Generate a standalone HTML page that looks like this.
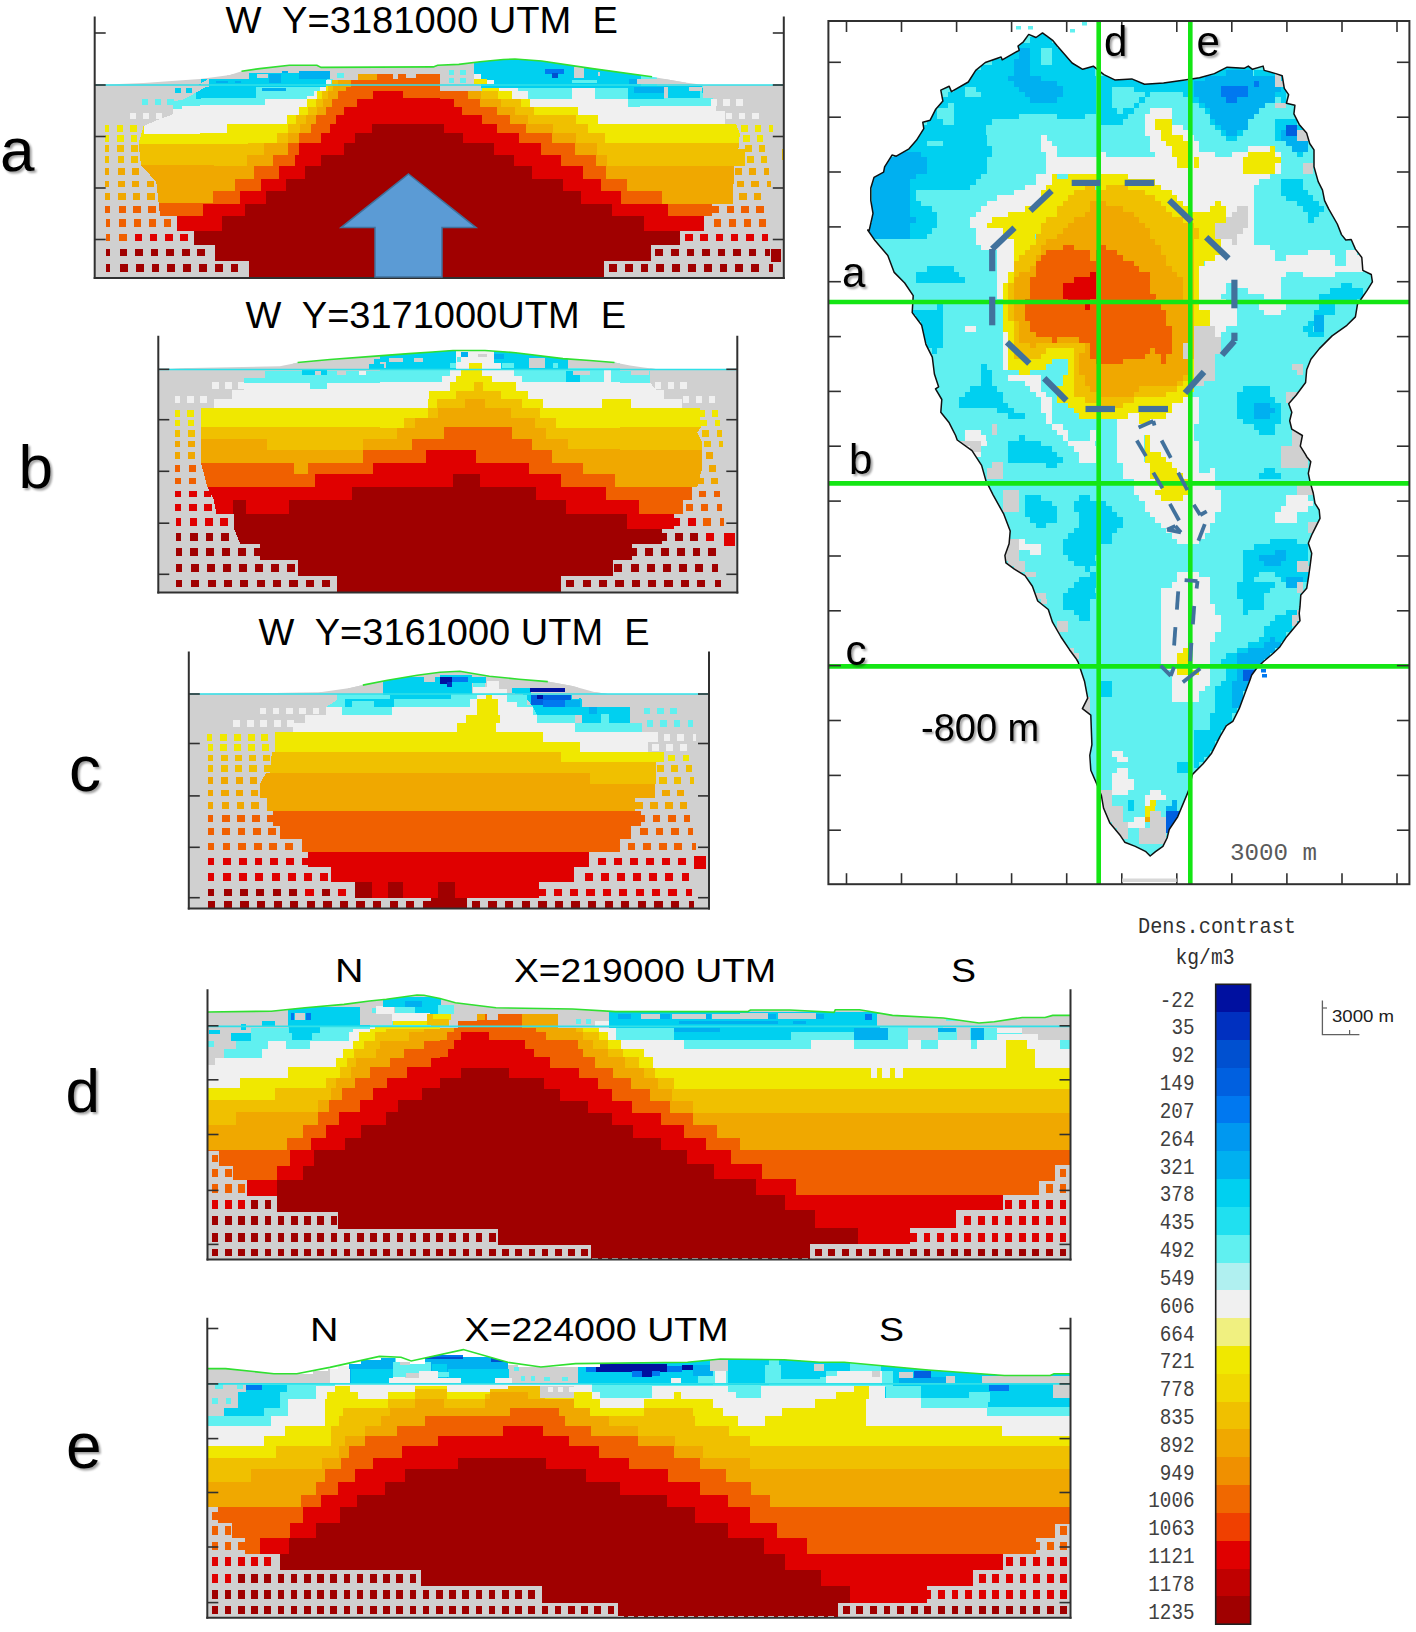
<!DOCTYPE html>
<html><head><meta charset="utf-8"><title>Density contrast sections</title>
<style>
html,body{margin:0;padding:0;background:#fff;}
body{width:1416px;height:1632px;overflow:hidden;}
svg{display:block;}
text{font-family:"Liberation Sans",sans-serif;}
.mono{font-family:"Liberation Mono",monospace;}
</style></head><body>
<svg width="1416" height="1632" viewBox="0 0 1416 1632">
<rect width="1416" height="1632" fill="#ffffff"/>
<clipPath id="clip_a"><path d="M94.7,85 143.5,83 200,79 230,75 241.5,71.2 259.7,68.6 289.3,65.3 316.9,65.3 321.1,67.4 433.4,66.9 437.6,65.3 458.8,64.4 480,61.7 503.3,59.5 515,59 541.7,61 592.5,68.6 652,76.8 685,82.6 704,85 783.8,85 783.8,278 94.7,278Z"/></clipPath>
<g clip-path="url(#clip_a)" shape-rendering="crispEdges">
<rect x="94.7" y="16.5" width="689.1" height="261.5" fill="#d0d0d0"/>
<path d="M94.7,278 94.7,96.6 184.2,96.6 184.2,92.8 195.7,92.8 195.7,86.4 200,86.4 200,86.9 208.5,86.9 208.5,79.2 249.4,79.2 249.4,72.8 332.8,72.8 332.8,84.1 400,84.1 440,84.1 473.9,84.1 473.9,58.7 640,58.7 640,58.7 656.5,58.7 656.5,85.5 703.1,85.5 703.1,91.2 783.6,91.2 783.6,278Z" fill="#60f0f0"/>
<path d="M208.4,78.8 195.7,86.4 195.7,99.2 200.8,99.2 200.8,78.8Z" fill="#00d0f0"/>
<path d="M208.5,79.2 249.4,79.2 249.4,72.8 332.8,72.8 332.8,78.5 327.1,78.5 327.1,86.9 255.8,86.9 255.8,98.2 200,98.2 200,86.9 208.5,86.9Z" fill="#00d0f0"/>
<rect x="215.5" y="80.6" width="12.7" height="2.1" fill="#00b0f0"/>
<rect x="235.3" y="80.6" width="5.6" height="2.1" fill="#00b0f0"/>
<rect x="262.1" y="87.7" width="24" height="3.5" fill="#00b0f0"/>
<rect x="269.2" y="74.2" width="11.3" height="9.2" fill="#00b0f0"/>
<rect x="298.9" y="70.7" width="33.9" height="7.8" fill="#00b0f0"/>
<rect x="281.9" y="70.7" width="5.6" height="2.1" fill="#00b0f0"/>
<rect x="226.8" y="74.2" width="19.8" height="3.5" fill="#d0d0d0"/>
<rect x="256.5" y="74.2" width="11.3" height="3.5" fill="#d0d0d0"/>
<rect x="329.9" y="70" width="29.7" height="8.5" fill="#d0d0d0"/>
<rect x="337" y="72.8" width="7.1" height="4.9" fill="#60f0f0"/>
<rect x="473.9" y="58.7" width="166.7" height="29.7" fill="#00d0f0"/>
<rect x="627.9" y="84.1" width="12.7" height="14.8" fill="#00d0f0"/>
<rect x="572.1" y="79.9" width="24.7" height="3.5" fill="#60f0f0"/>
<rect x="574.2" y="67.2" width="9.9" height="10.6" fill="#d0d0d0"/>
<rect x="598.2" y="72.1" width="11.3" height="4.2" fill="#d0d0d0"/>
<rect x="473.9" y="74.2" width="7.1" height="4.5" fill="#f0f0f0"/>
<rect x="487.3" y="79.9" width="7.1" height="4.2" fill="#f0f0f0"/>
<rect x="545.2" y="68.6" width="19.1" height="5.6" fill="#0078f0"/>
<rect x="551.6" y="72.8" width="6.4" height="5.4" fill="#0050d0"/>
<rect x="473.9" y="79.2" width="12.7" height="4.9" fill="#f0e800"/>
<rect x="600" y="64.4" width="29.7" height="21.2" fill="#00d0f0"/>
<rect x="629.7" y="85.8" width="33.9" height="13.1" fill="#00d0f0"/>
<rect x="667.8" y="88.4" width="32.5" height="9.9" fill="#00d0f0"/>
<rect x="663.6" y="85.8" width="38.1" height="3.2" fill="#00d0f0"/>
<rect x="633.9" y="86.9" width="29.7" height="5.6" fill="#00b0f0"/>
<rect x="629" y="78.5" width="8.5" height="5.6" fill="#00b0f0"/>
<rect x="663.6" y="86.9" width="4.2" height="11.3" fill="#d0d0d0"/>
<rect x="689" y="86.9" width="12.7" height="4.2" fill="#d0d0d0"/>
<rect x="637.4" y="78.5" width="48.7" height="5.6" fill="#d0d0d0"/>
<rect x="701.7" y="88.4" width="3.5" height="4.9" fill="#00d0f0"/>
<path d="M94.7,278 94.7,109.3 181.7,109.3 181.7,105.5 200,105.5 265,105.3 265,99 306.6,99 306.6,96.1 314.4,96.1 314.4,91.2 320.1,91.2 320.1,86.9 326.4,86.9 326.4,79.9 331.4,79.9 331.4,84.1 400,84.1 440,91.2 499.3,91.2 499.3,88.4 518.4,88.4 518.4,91.2 528.3,91.2 528.3,99 572.1,99 572.1,88.4 595.4,88.4 595.4,99 627.9,99 627.9,106.7 640,106.7 640,106 713,106 713,98.2 783.6,98.2 783.6,278Z" fill="#f0f0f0"/>
<path d="M94.7,278 94.7,122 143.6,122 143.6,133.5 200,133.5 226.8,132.9 226.8,124.4 286.9,124.4 286.9,115.2 298.9,115.2 298.9,106.7 306.6,106.7 306.6,99 317.2,99 317.2,91.2 326.4,91.2 326.4,84.1 400,84.1 440,91.2 482.4,91.2 482.4,88.4 499.3,88.4 499.3,91.2 512,91.2 512,99 530.4,99 530.4,106.7 578.4,106.7 578.4,115.2 597.5,115.2 597.5,124.4 640,124.4 640,124.4 783.6,124.4 783.6,278Z" fill="#f0e800"/>
<path d="M94.7,278 94.7,143.7 200,143.7 277,143.4 277,132.9 288.3,132.9 288.3,124.4 296,124.4 296,115.2 308.1,115.2 308.1,106.7 315.8,106.7 315.8,99 321.5,99 321.5,91.2 327.8,91.2 327.8,86.2 332.1,86.2 332.1,79.9 346.9,79.9 346.9,84.1 400,84.1 440,91.2 497.9,91.2 497.9,99 521.2,99 521.2,106.7 533.9,106.7 533.9,115.2 575.6,115.2 575.6,124.4 588.3,124.4 588.3,132.9 605.3,132.9 605.3,143.4 640,143.4 640,143.4 783.6,143.4 783.6,278Z" fill="#f0c000"/>
<path d="M94.7,278 94.7,165.3 200,165.3 247.3,166 247.3,154.7 263.6,154.7 263.6,143.4 287.6,143.4 287.6,132.9 299.6,132.9 299.6,124.4 305.9,124.4 305.9,115.2 317.2,115.2 317.2,106.7 322.9,106.7 322.9,99 327.8,99 327.8,91.2 332.8,91.2 332.8,86.2 337.7,86.2 337.7,79.9 358.2,79.9 358.2,74.2 376.6,74.2 376.6,84.1 400,84.1 440,91.2 481,91.2 481,99 500.7,99 500.7,106.7 514.9,106.7 514.9,115.2 527.6,115.2 527.6,124.4 553,124.4 553,132.9 575.6,132.9 575.6,143.4 596.8,143.4 596.8,154.7 606.7,154.7 606.7,166 640,166 640,166 783.6,166 783.6,278Z" fill="#f0a800"/>
<path d="M94.7,278 94.7,203.4 200,203.4 212.7,203.5 212.7,190.8 234.6,190.8 234.6,178.8 254.4,178.8 254.4,166 272.7,166 272.7,154.7 287.6,154.7 287.6,143.4 298.9,143.4 298.9,132.9 310.9,132.9 310.9,124.4 315.8,124.4 315.8,115.2 326.4,115.2 326.4,106.7 332.1,106.7 332.1,99 337.7,99 337.7,91.2 346.2,91.2 346.2,86.9 351.1,86.9 351.1,79.9 376.6,79.9 376.6,74.2 400,74.2 440,73.7 440,74.2 440,91.2 468.2,91.2 468.2,99 479.5,99 479.5,106.7 496.5,106.7 496.5,115.2 509.9,115.2 509.9,124.4 526.2,124.4 526.2,132.9 551.6,132.9 551.6,143.4 574.9,143.4 574.9,154.7 596.1,154.7 596.1,166 606,166 606,178.8 627.1,178.8 627.1,190.8 640,190.8 640,190.8 662.1,190.8 662.1,203.5 783.6,203.5 783.6,278Z" fill="#f06000"/>
<rect x="392.7" y="73.7" width="5.1" height="5.1" fill="#d0d0d0"/>
<rect x="405.5" y="73.7" width="10.2" height="3.8" fill="#d0d0d0"/>
<path d="M94.7,278 94.7,245.4 137.2,245.4 137.2,231.4 176.6,231.4 176.6,216.1 200,216.1 202.8,216.2 202.8,203.5 239.5,203.5 239.5,190.8 261.4,190.8 261.4,178.8 279.1,178.8 279.1,166 295.3,166 295.3,154.7 298.9,154.7 298.9,143.4 320.8,143.4 320.8,132.9 329.9,132.9 329.9,124.4 335.6,124.4 335.6,115.2 344.1,115.2 344.1,106.7 356.8,106.7 356.8,99 373,99 373,91.2 400,91.2 402.9,91.5 402.9,97.9 440,97.9 440,99 454.1,99 454.1,106.7 461.9,106.7 461.9,115.2 481.7,115.2 481.7,124.4 496.5,124.4 496.5,132.9 519.1,132.9 519.1,143.4 541,143.4 541,154.7 560.8,154.7 560.8,166 582.7,166 582.7,178.8 601,178.8 601,190.8 620.8,190.8 620.8,203.5 640,203.5 640,203.5 667.8,203.5 667.8,216.2 717.2,216.2 717.2,231 783.6,231 783.6,278Z" fill="#e00000"/>
<path d="M94.7,278 94.7,245.4 194.4,245.4 194.4,231.4 200,231.4 221.9,231 221.9,216.2 245.2,216.2 245.2,203.5 266.4,203.5 266.4,190.8 286.2,190.8 286.2,178.8 304.5,178.8 304.5,166 320.8,166 320.8,154.7 344.1,154.7 344.1,143.4 355.4,143.4 355.4,132.9 371.6,132.9 371.6,124.4 400,124.4 440,124.4 443.5,124.4 443.5,132.9 463.3,132.9 463.3,143.4 494.4,143.4 494.4,154.7 514.2,154.7 514.2,166 531.8,166 531.8,178.8 562.9,178.8 562.9,190.8 580.5,190.8 580.5,203.5 611.6,203.5 611.6,216.2 640,216.2 640,216.2 643.8,216.2 643.8,231 679.8,231 679.8,245.4 783.6,245.4 783.6,278Z" fill="#a00000"/>
<path d="M94.7,85.2 208.4,85.2 195.7,92.8 184.2,99.2 172.8,101.7 172.8,114.4 158.8,119.5 143.6,125.9 138.5,143.7 141,165.3 156.3,181.8 160.1,216.1 176.6,216.1 176.6,231.4 194.4,231.4 194.4,245.4 214.8,245.4 214.8,260.6 249.1,260.6 249.1,279.7 94.7,279.7Z" fill="#d0d0d0"/>
<path d="M703.1,84.8 783.6,84.8 783.6,279 604,279 604,260.5 651,260.5 651,245.4 679.8,245.4 679.8,231 703.8,231 703.8,216.2 712.3,216.2 712.3,203.5 732.8,203.5 734.2,166 744.8,166 744.8,149.1 738.4,149.1 739.8,133.6 736.3,124.4 725,124.4 725,111 715.8,111 715.8,106 713,106 713,98.2 703.1,98.2Z" fill="#d0d0d0"/>
<path d="M440,67.2 473.9,67.2 473.9,84.1 481,84.1 481,91.2 440,91.2Z" fill="#d0d0d0"/>
<path d="M141.7,98.7h6.6v6.6h-6.6zM154.5,98.7h6.6v6.6h-6.6zM167.3,98.7h6.6v6.6h-6.6z" fill="#60f0f0"/>
<path d="M129.5,112.7h6.6v6.6h-6.6zM142.6,112.7h6.6v6.6h-6.6zM155.7,112.7h6.6v6.6h-6.6z" fill="#f0f0f0"/>
<path d="M105,125.4h3.6v6.6h-3.6zM116.8,125.4h6.6v6.6h-6.6zM130.1,125.4h6.6v6.6h-6.6zM105.1,135.1h3.7v6.6h-3.7zM117,135.1h6.7v6.6h-6.7zM130.5,135.1h6.7v6.6h-6.7z" fill="#f0e800"/>
<path d="M105.1,145.4h3.8v6.6h-3.8zM117.3,145.4h6.8v6.6h-6.8zM130.9,145.4h6.8v6.6h-6.8zM105.2,156.2h3.9v6.6h-3.9zM117.5,156.2h6.9v6.6h-6.9zM131.3,156.2h6.9v6.6h-6.9z" fill="#f0c000"/>
<path d="M105.2,167.9h4v6.6h-4zM117.8,167.9h7v6.6h-7zM131.8,167.9h7v6.6h-7zM105.3,180.6h4.1v6.6h-4.1zM118.1,180.6h7.1v6.6h-7.1zM132.3,180.6h7.1v6.6h-7.1zM146.6,180.6h7.1v6.6h-7.1zM105.4,193.3h4.2v6.6h-4.2zM118.3,193.3h7.3v6.6h-7.3zM132.8,193.3h7.3v6.6h-7.3zM147.4,193.3h7.3v6.6h-7.3z" fill="#f0a800"/>
<path d="M105.4,206h4.3v6.6h-4.3zM118.6,206h7.4v6.6h-7.4zM133.4,206h7.4v6.6h-7.4zM148.1,206h7.4v6.6h-7.4zM105.5,219.3h4.4v7.2h-4.4zM118.9,219.3h7.5v7.2h-7.5zM133.9,219.3h7.5v7.2h-7.5zM148.9,219.3h7.5v7.2h-7.5zM163.9,219.3h7.5v7.2h-7.5zM105.6,233.8h4.5v7.5h-4.5zM119.3,233.8h7.6v7.5h-7.6z" fill="#f06000"/>
<path d="M134.5,233.8h7.6v7.5h-7.6zM149.7,233.8h7.6v7.5h-7.6zM165,233.8h7.6v7.5h-7.6zM180.2,233.8h7.6v7.5h-7.6z" fill="#e00000"/>
<path d="M105.7,248.8h4.6v7.5h-4.6zM119.6,248.8h7.8v7.5h-7.8zM135.1,248.8h7.8v7.5h-7.8zM150.6,248.8h7.8v7.5h-7.8zM166.1,248.8h7.8v7.5h-7.8zM181.7,248.8h7.8v7.5h-7.8zM197.2,248.8h7.8v7.5h-7.8zM105.7,263.9h4.7v7.8h-4.7zM119.9,263.9h7.9v7.8h-7.9zM135.7,263.9h7.9v7.8h-7.9zM151.5,263.9h7.9v7.8h-7.9zM167.3,263.9h7.9v7.8h-7.9zM183.1,263.9h7.9v7.8h-7.9zM198.9,263.9h7.9v7.8h-7.9zM214.7,263.9h7.9v7.8h-7.9zM230.5,263.9h7.9v7.8h-7.9z" fill="#a00000"/>
<path d="M710.6,99.2h6.6v6.6h-6.6zM723.4,99.2h6.6v6.6h-6.6zM736.3,99.2h6.6v6.6h-6.6zM725.8,112.7h6.6v6.6h-6.6zM738.8,112.7h6.6v6.6h-6.6zM751.9,112.7h6.6v6.6h-6.6z" fill="#f0f0f0"/>
<path d="M741.2,125.4h6.6v6.6h-6.6zM754.5,125.4h6.6v6.6h-6.6zM769.3,125.4h3.5v6.6h-3.5zM743,135.1h6.7v6.6h-6.7zM756.5,135.1h6.7v6.6h-6.7z" fill="#f0e800"/>
<path d="M744.9,145.4h6.8v6.6h-6.8zM758.8,145.4h6.2v6.6h-6.2zM746.9,156.2h6.9v6.6h-6.9zM761.3,156.2h5.7v6.6h-5.7z" fill="#f0c000"/>
<path d="M735,167.9h7v6.6h-7zM749,167.9h7v6.6h-7zM764.1,167.9h5v6.6h-5zM737.1,180.6h7.1v6.6h-7.1zM751.4,180.6h7.1v6.6h-7.1zM767.1,180.6h4.3v6.6h-4.3zM739.2,193.3h7.3v6.6h-7.3zM753.7,193.3h7.3v6.6h-7.3z" fill="#f0a800"/>
<path d="M711.9,206h7.4v6.6h-7.4zM726.6,206h7.4v6.6h-7.4zM741.3,206h7.4v6.6h-7.4zM756.1,206h7.4v6.6h-7.4zM713.6,219.3h7.5v7.2h-7.5zM728.6,219.3h7.5v7.2h-7.5zM743.6,219.3h7.5v7.2h-7.5zM758.9,219.3h6.7v7.2h-6.7z" fill="#f06000"/>
<path d="M685,233.8h7.6v7.5h-7.6zM700.3,233.8h7.6v7.5h-7.6zM715.5,233.8h7.6v7.5h-7.6zM730.8,233.8h7.6v7.5h-7.6zM746,233.8h7.6v7.5h-7.6zM762.1,233.8h5.9v7.5h-5.9z" fill="#e00000"/>
<path d="M655.4,248.8h7.8v7.5h-7.8zM670.9,248.8h7.8v7.5h-7.8zM686.5,248.8h7.8v7.5h-7.8zM702,248.8h7.8v7.5h-7.8zM717.5,248.8h7.8v7.5h-7.8zM733,248.8h7.8v7.5h-7.8zM748.5,248.8h7.8v7.5h-7.8zM765.3,248.8h5.1v7.5h-5.1zM608.9,263.9h7.9v7.8h-7.9zM624.7,263.9h7.9v7.8h-7.9zM640.5,263.9h7.9v7.8h-7.9zM656.3,263.9h7.9v7.8h-7.9zM672.1,263.9h7.9v7.8h-7.9zM687.9,263.9h7.9v7.8h-7.9zM703.7,263.9h7.9v7.8h-7.9zM719.5,263.9h7.9v7.8h-7.9zM735.3,263.9h7.9v7.8h-7.9zM751.1,263.9h7.9v7.8h-7.9zM768.6,263.9h4.3v7.8h-4.3z" fill="#a00000"/>
<rect x="448.5" y="70" width="5.9" height="5.1" fill="#60f0f0"/>
<rect x="448.5" y="78.2" width="5.9" height="5.1" fill="#60f0f0"/>
<rect x="459.8" y="70" width="5.9" height="5.1" fill="#60f0f0"/>
<rect x="459.8" y="78.2" width="5.9" height="5.1" fill="#60f0f0"/>
<rect x="175.3" y="88.2" width="5.6" height="4.6" fill="#00d0f0"/>
<rect x="186.3" y="88.2" width="5.6" height="4.6" fill="#00d0f0"/>
<rect x="770.5" y="249.2" width="10.2" height="12.7" fill="#a00000"/>
<rect x="781.5" y="149.1" width="2.1" height="11.3" fill="#f0c000"/>
</g>
<line x1="94.7" y1="85" x2="783.8" y2="85" stroke="#30e0e8" stroke-width="1.6"/>
<polyline points="241.5,71.2 259.7,68.6 289.3,65.3 316.9,65.3 321.1,67.4 433.4,66.9 437.6,65.3 458.8,64.4 480,61.7 503.3,59.5 515,59 541.7,61 592.5,68.6 652,76.8" fill="none" stroke="#30e030" stroke-width="1.6"/>
<line x1="94.7" y1="16.5" x2="94.7" y2="279" stroke="#303030" stroke-width="2"/>
<line x1="783.8" y1="16.5" x2="783.8" y2="279" stroke="#303030" stroke-width="2"/>
<line x1="93.7" y1="278" x2="784.8" y2="278" stroke="#303030" stroke-width="2"/>
<line x1="94.7" y1="33" x2="105.7" y2="33" stroke="#303030" stroke-width="1.6"/>
<line x1="772.8" y1="33" x2="783.8" y2="33" stroke="#303030" stroke-width="1.6"/>
<line x1="94.7" y1="85" x2="105.7" y2="85" stroke="#303030" stroke-width="1.6"/>
<line x1="772.8" y1="85" x2="783.8" y2="85" stroke="#303030" stroke-width="1.6"/>
<line x1="94.7" y1="136.5" x2="105.7" y2="136.5" stroke="#303030" stroke-width="1.6"/>
<line x1="772.8" y1="136.5" x2="783.8" y2="136.5" stroke="#303030" stroke-width="1.6"/>
<line x1="94.7" y1="188" x2="105.7" y2="188" stroke="#303030" stroke-width="1.6"/>
<line x1="772.8" y1="188" x2="783.8" y2="188" stroke="#303030" stroke-width="1.6"/>
<line x1="94.7" y1="239.5" x2="105.7" y2="239.5" stroke="#303030" stroke-width="1.6"/>
<line x1="772.8" y1="239.5" x2="783.8" y2="239.5" stroke="#303030" stroke-width="1.6"/>
<clipPath id="clip_b"><path d="M158.3,369.5 190.8,368 279.8,366.3 292.5,363.7 297.6,362.5 330,359.5 368.8,356.6 408.8,353.6 432.4,352 452.9,350.5 485,350.5 515.6,352.7 563,358.6 590,360.5 614.5,362.5 630,365.5 643.7,367.6 660,369.5 737.3,369.5 737.3,592.6 158.3,592.6Z"/></clipPath>
<g clip-path="url(#clip_b)" shape-rendering="crispEdges">
<rect x="158.3" y="335.8" width="579" height="256.8" fill="#d0d0d0"/>
<path d="M158.3,592.6 158.3,377.7 264.6,377.7 264.6,371.4 380,371.4 380,369.7 380,350.2 620,350.2 620,369.7 619.8,371.4 650.1,371.4 650.1,377.7 737.3,377.7 737.3,592.6Z" fill="#60f0f0"/>
<rect x="301.5" y="369.3" width="25.4" height="5.8" fill="#00d0f0"/>
<rect x="373.9" y="358.6" width="6.1" height="10.7" fill="#00d0f0"/>
<rect x="380" y="350.2" width="76.3" height="19.5" fill="#00d0f0"/>
<rect x="493.6" y="350.2" width="74.6" height="19.5" fill="#00d0f0"/>
<rect x="456.3" y="350.2" width="37.3" height="19.5" fill="#f0f0f0"/>
<rect x="449.5" y="362.9" width="6.8" height="5.1" fill="#60f0f0"/>
<rect x="457.1" y="356.9" width="4.2" height="5.1" fill="#60f0f0"/>
<rect x="502" y="362.9" width="11.9" height="5.1" fill="#60f0f0"/>
<rect x="552.9" y="362.9" width="5.1" height="5.1" fill="#60f0f0"/>
<rect x="388.5" y="357.8" width="14.4" height="4.2" fill="#d0d0d0"/>
<rect x="413.9" y="357.8" width="9.3" height="4.2" fill="#d0d0d0"/>
<rect x="380" y="362" width="5.9" height="5.9" fill="#d0d0d0"/>
<rect x="478.3" y="353.6" width="8.5" height="3.4" fill="#d0d0d0"/>
<rect x="529.2" y="357.8" width="16.1" height="10.2" fill="#d0d0d0"/>
<rect x="568.1" y="356.9" width="51.9" height="11" fill="#d0d0d0"/>
<rect x="573.2" y="370.5" width="16.9" height="4.2" fill="#d0d0d0"/>
<rect x="566.4" y="370.5" width="13.6" height="11.9" fill="#00b0f0"/>
<rect x="461.4" y="351.9" width="6.8" height="5.1" fill="#00b0f0"/>
<rect x="493.6" y="354.4" width="10.2" height="4.2" fill="#00b0f0"/>
<rect x="292.6" y="362.5" width="81.4" height="6.9" fill="#d0d0d0"/>
<rect x="368.8" y="363.7" width="15.3" height="5.6" fill="#00d0f0"/>
<rect x="315.4" y="370.9" width="5.1" height="3.6" fill="#d0d0d0"/>
<rect x="337.1" y="370.9" width="8.9" height="3.6" fill="#d0d0d0"/>
<rect x="358.7" y="370.9" width="7.6" height="3.6" fill="#f0f0f0"/>
<rect x="469" y="362.9" width="12.7" height="5.1" fill="#f0e800"/>
<rect x="566.2" y="371.4" width="14" height="10.2" fill="#00d0f0"/>
<rect x="572.6" y="370.9" width="17.8" height="3.6" fill="#d0d0d0"/>
<rect x="631" y="370.9" width="17.8" height="3.6" fill="#d0d0d0"/>
<rect x="604.3" y="370.9" width="6.4" height="10.7" fill="#f0f0f0"/>
<path d="M158.3,592.6 158.3,381.5 244.2,381.5 244.2,382.8 310.4,382.8 310.4,389.2 326.9,389.2 326.9,382.8 380,382.8 380,382.4 441.9,382.4 441.9,375.6 449.5,375.6 449.5,369.7 456.3,369.7 456.3,362.9 461.4,362.9 461.4,356.9 491.9,356.9 491.9,362.9 501.2,362.9 501.2,369.7 513.9,369.7 513.9,375.6 522.4,375.6 522.4,382.4 603.7,382.4 603.7,369.7 610.5,369.7 610.5,382.4 620,382.4 619.8,382.8 650.1,382.8 650.1,377.7 656.5,377.7 656.5,381.5 737.3,381.5 737.3,592.6Z" fill="#f0f0f0"/>
<path d="M158.3,592.6 158.3,407.5 380,407.5 380,407.8 427.5,407.8 427.5,399.3 429.2,399.3 429.2,390.8 449.5,390.8 449.5,382.4 456.3,382.4 456.3,375.6 461.4,375.6 461.4,369.7 469,369.7 469,362.9 481.7,362.9 481.7,375.6 491.9,375.6 491.9,382.4 515.6,382.4 515.6,390.8 528.3,390.8 528.3,399.3 542.7,399.3 542.7,407.8 602,407.8 602,399.3 620,399.3 619.8,399.3 631,399.3 631,407.5 737.3,407.5 737.3,592.6Z" fill="#f0e800"/>
<path d="M158.3,592.6 158.3,427.3 380,427.3 380,428.1 403.7,428.1 403.7,418 427.5,418 427.5,407.8 436.8,407.8 436.8,399.3 456.3,399.3 456.3,390.8 474.1,390.8 474.1,382.4 483.4,382.4 483.4,390.8 501.2,390.8 501.2,399.3 522.4,399.3 522.4,407.8 540.2,407.8 540.2,418 556.3,418 556.3,428.1 620,428.1 619.8,427.3 737.3,427.3 737.3,592.6Z" fill="#f0c000"/>
<path d="M158.3,592.6 158.3,438.7 267.1,438.7 267.1,449.7 362.5,449.7 362.5,438.7 380,438.7 380,439.2 396.9,439.2 396.9,428.1 414.7,428.1 414.7,418 437.6,418 437.6,407.8 464.7,407.8 464.7,399.3 485.1,399.3 485.1,407.8 510.5,407.8 510.5,418 535.1,418 535.1,428.1 546.1,428.1 546.1,439.2 568.1,439.2 568.1,449.3 620,449.3 619.8,449.7 737.3,449.7 737.3,592.6Z" fill="#f0a800"/>
<path d="M158.3,592.6 158.3,462.9 293.8,462.9 293.8,474.3 307.8,474.3 307.8,462.9 362.5,462.9 362.5,449.7 412.1,449.7 412.1,438.7 443.8,438.7 443.8,427.3 444.2,427.3 511.5,427.3 511.5,438.7 531.9,438.7 531.9,449.7 552.2,449.7 552.2,462.9 582.7,462.9 582.7,474.3 614.5,474.3 614.5,487.1 737.3,487.1 737.3,592.6Z" fill="#f06000"/>
<path d="M158.3,592.6 158.3,487.1 315.4,487.1 315.4,474.3 372.6,474.3 372.6,462.9 426,462.9 426,449.7 475.6,449.7 475.9,449.7 475.9,462.9 529.3,462.9 529.3,474.3 561.1,474.3 561.1,487.1 605.6,487.1 605.6,499.8 638.7,499.8 638.7,513.7 702.2,513.7 702.2,529 737.3,529 737.3,592.6Z" fill="#e00000"/>
<path d="M158.3,592.6 158.3,529 232.8,529 232.8,499.8 245.5,499.8 245.5,513.7 288.7,513.7 288.7,499.8 352.3,499.8 352.3,487.1 452.7,487.1 453.1,487.1 453.1,474.3 479.8,474.3 479.8,487.1 535.7,487.1 535.7,499.8 566.2,499.8 566.2,513.7 627.2,513.7 627.2,529 706,529 706,544.3 737.3,544.3 737.3,592.6Z" fill="#a00000"/>
<path d="M158.3,367.5 258.2,367.5 258.2,377.7 244.2,377.7 244.2,390.4 231.5,390.4 231.5,399.3 213.7,399.3 213.7,407.5 201,407.5 201,462.9 207.4,487.1 213.7,499.8 216.3,513.7 234.1,513.7 234.1,529 240.4,544.3 259.5,544.3 259.5,559.5 297.6,559.5 297.6,576 337.1,576 337.1,595.1 158.3,595.1Z" fill="#d0d0d0"/>
<path d="M650.1,367.5 650.1,382.8 656.5,390.4 664.1,390.4 664.1,399.3 681.9,399.3 681.9,407.5 699.7,407.5 701,427.3 697.1,432.4 702.2,442.6 702.2,468 697.1,487.1 692.1,487.1 692.1,499.8 683.2,499.8 683.2,513.7 674.3,513.7 674.3,529 661.5,529 661.5,544.3 632.3,544.3 632.3,559.5 613.2,559.5 613.2,576 561.1,576 561.1,595.1 737.3,595.1 737.3,367.5Z" fill="#d0d0d0"/>
<path d="M212.2,382.2h6.6v6.6h-6.6zM225,382.2h6.6v6.6h-6.6zM237.8,382.2h6.6v6.6h-6.6zM174.9,396.2h4.7v6.6h-4.7zM187,396.2h6.6v6.6h-6.6zM200,396.2h6.6v6.6h-6.6z" fill="#f0f0f0"/>
<path d="M175,409.9h4.7v6.6h-4.7zM187.3,409.9h6.6v6.6h-6.6zM175,419.6h4.8v6.6h-4.8zM187.5,419.6h6.7v6.6h-6.7z" fill="#f0e800"/>
<path d="M175.1,429.9h4.9v6.6h-4.9zM187.8,429.9h6.8v6.6h-6.8z" fill="#f0c000"/>
<path d="M175.1,440.7h5v6.6h-5zM188,440.7h6.9v6.6h-6.9zM175.2,452.4h5.1v6.6h-5.1zM188.3,452.4h7v6.6h-7z" fill="#f0a800"/>
<path d="M175.2,465.1h5.2v6.6h-5.2zM188.6,465.1h7.1v6.6h-7.1zM175.3,477.8h5.3v6.6h-5.3zM188.8,477.8h7.3v6.6h-7.3z" fill="#f06000"/>
<path d="M175.3,490.6h5.5v6.6h-5.5zM189.1,490.6h7.4v6.6h-7.4zM203.9,490.6h7.4v6.6h-7.4zM175.4,503.8h5.6v7.2h-5.6zM189.4,503.8h7.5v7.2h-7.5zM204.4,503.8h7.5v7.2h-7.5zM175.5,518.2h5.7v7.5h-5.7zM189.8,518.2h7.6v7.5h-7.6zM205,518.2h7.6v7.5h-7.6zM220.3,518.2h7.6v7.5h-7.6z" fill="#e00000"/>
<path d="M175.5,533.2h5.9v7.5h-5.9zM190.1,533.2h7.8v7.5h-7.8zM205.6,533.2h7.8v7.5h-7.8zM221.2,533.2h7.8v7.5h-7.8zM175.6,548.4h6v7.8h-6zM190.4,548.4h7.9v7.8h-7.9zM206.2,548.4h7.9v7.8h-7.9zM222,548.4h7.9v7.8h-7.9zM237.8,548.4h7.9v7.8h-7.9zM253.6,548.4h7.9v7.8h-7.9zM175.7,564h6.2v7.9h-6.2zM190.8,564h8v7.9h-8zM206.9,564h8v7.9h-8zM223,564h8v7.9h-8zM239,564h8v7.9h-8zM255.1,564h8v7.9h-8zM271.2,564h8v7.9h-8zM287.3,564h8v7.9h-8zM175.7,579.6h6.3v7.7h-6.3zM191.2,579.6h8.2v7.7h-8.2zM207.5,579.6h8.2v7.7h-8.2zM223.9,579.6h8.2v7.7h-8.2zM240.2,579.6h8.2v7.7h-8.2zM256.6,579.6h8.2v7.7h-8.2zM273,579.6h8.2v7.7h-8.2zM289.3,579.6h8.2v7.7h-8.2zM305.7,579.6h8.2v7.7h-8.2zM322,579.6h8.2v7.7h-8.2z" fill="#a00000"/>
<path d="M654.8,382.2h6.6v6.6h-6.6zM667.6,382.2h6.6v6.6h-6.6zM680.4,382.2h6.6v6.6h-6.6zM682.8,396.2h6.6v6.6h-6.6zM695.8,396.2h6.6v6.6h-6.6zM709,396.2h6.4v6.6h-6.4z" fill="#f0f0f0"/>
<path d="M698.4,409.9h6.6v6.6h-6.6zM712.2,409.9h5.6v6.6h-5.6zM700.2,419.6h6.7v6.6h-6.7zM714.5,419.6h5.1v6.6h-5.1z" fill="#f0e800"/>
<path d="M702.1,429.9h6.8v6.6h-6.8zM716.9,429.9h4.6v6.6h-4.6zM704.1,440.7h6.9v6.6h-6.9zM719.4,440.7h4v6.6h-4z" fill="#f0c000"/>
<path d="M706.2,452.4h7v6.6h-7zM708.7,465.1h6.9v6.6h-6.9zM696.4,477.8h7.3v6.6h-7.3zM711.4,477.8h6.3v6.6h-6.3z" fill="#f0a800"/>
<path d="M698.5,490.6h7.4v6.6h-7.4zM714.1,490.6h5.6v6.6h-5.6zM685.8,503.8h7.5v7.2h-7.5zM700.8,503.8h7.5v7.2h-7.5zM717,503.8h4.9v7.2h-4.9zM703.2,518.2h7.6v7.5h-7.6zM720.2,518.2h4.1v7.5h-4.1z" fill="#f06000"/>
<path d="M672.7,518.2h7.6v7.5h-7.6zM688,518.2h7.6v7.5h-7.6zM705.7,533.2h7.8v7.5h-7.8z" fill="#e00000"/>
<path d="M659.1,533.2h7.8v7.5h-7.8zM674.7,533.2h7.8v7.5h-7.8zM690.2,533.2h7.8v7.5h-7.8zM629.3,548.4h7.9v7.8h-7.9zM645.1,548.4h7.9v7.8h-7.9zM660.9,548.4h7.9v7.8h-7.9zM676.7,548.4h7.9v7.8h-7.9zM692.5,548.4h7.9v7.8h-7.9zM708.4,548.4h7.6v7.8h-7.6zM614.4,564h8v7.9h-8zM630.5,564h8v7.9h-8zM646.5,564h8v7.9h-8zM662.6,564h8v7.9h-8zM678.7,564h8v7.9h-8zM694.8,564h8v7.9h-8zM711.5,564h6.8v7.9h-6.8zM566.2,579.6h8.2v7.7h-8.2zM582.6,579.6h8.2v7.7h-8.2zM598.9,579.6h8.2v7.7h-8.2zM615.3,579.6h8.2v7.7h-8.2zM631.6,579.6h8.2v7.7h-8.2zM648,579.6h8.2v7.7h-8.2zM664.4,579.6h8.2v7.7h-8.2zM680.7,579.6h8.2v7.7h-8.2zM697.1,579.6h8.2v7.7h-8.2zM714.5,579.6h6.1v7.7h-6.1z" fill="#a00000"/>
<rect x="723.8" y="532.8" width="11.4" height="12.7" fill="#e00000"/>
</g>
<line x1="158.3" y1="369.5" x2="737.3" y2="369.5" stroke="#30e0e8" stroke-width="1.6"/>
<polyline points="297.6,362.5 330,359.5 368.8,356.6 408.8,353.6 432.4,352 452.9,350.5 485,350.5 515.6,352.7 563,358.6 590,360.5 614.5,362.5" fill="none" stroke="#30e030" stroke-width="1.6"/>
<line x1="158.3" y1="335.8" x2="158.3" y2="593.6" stroke="#303030" stroke-width="2"/>
<line x1="737.3" y1="335.8" x2="737.3" y2="593.6" stroke="#303030" stroke-width="2"/>
<line x1="157.3" y1="592.6" x2="738.3" y2="592.6" stroke="#303030" stroke-width="2"/>
<line x1="158.3" y1="369.3" x2="169.3" y2="369.3" stroke="#303030" stroke-width="1.6"/>
<line x1="726.3" y1="369.3" x2="737.3" y2="369.3" stroke="#303030" stroke-width="1.6"/>
<line x1="158.3" y1="419.7" x2="169.3" y2="419.7" stroke="#303030" stroke-width="1.6"/>
<line x1="726.3" y1="419.7" x2="737.3" y2="419.7" stroke="#303030" stroke-width="1.6"/>
<line x1="158.3" y1="471.3" x2="169.3" y2="471.3" stroke="#303030" stroke-width="1.6"/>
<line x1="726.3" y1="471.3" x2="737.3" y2="471.3" stroke="#303030" stroke-width="1.6"/>
<line x1="158.3" y1="523.2" x2="169.3" y2="523.2" stroke="#303030" stroke-width="1.6"/>
<line x1="726.3" y1="523.2" x2="737.3" y2="523.2" stroke="#303030" stroke-width="1.6"/>
<line x1="158.3" y1="574.3" x2="169.3" y2="574.3" stroke="#303030" stroke-width="1.6"/>
<line x1="726.3" y1="574.3" x2="737.3" y2="574.3" stroke="#303030" stroke-width="1.6"/>
<clipPath id="clip_c"><path d="M188.8,694 318.3,692.5 350,688 362.8,685.1 387.5,680.2 417.2,675.3 440,672.2 459.8,671.3 489.4,676.2 519,679.2 547.8,681.6 572.5,686.1 594.2,692 608,694 709,694 709,908.6 188.8,908.6Z"/></clipPath>
<g clip-path="url(#clip_c)" shape-rendering="crispEdges">
<rect x="188.8" y="651.5" width="520.2" height="257.1" fill="#d0d0d0"/>
<path d="M188.8,908.6 188.8,700 337.1,700 337.1,694 434,694 440,694 505.3,694 505.3,695 527,695 527,704.9 536.9,704.9 536.9,714.8 574.5,714.8 574.5,722.7 641.7,722.7 641.7,704.9 707.4,704.9 707.4,908.6Z" fill="#60f0f0"/>
<path d="M345,699 394.4,699 394.4,706.9 373.7,706.9 373.7,701 351.9,701 351.9,706.9 345,706.9Z" fill="#00d0f0"/>
<rect x="382.6" y="677.2" width="68.2" height="17.8" fill="#00d0f0"/>
<rect x="389.5" y="694" width="61.3" height="5.3" fill="#00d0f0"/>
<rect x="348" y="685.1" width="34.6" height="8.9" fill="#d0d0d0"/>
<rect x="424.1" y="677.2" width="10.9" height="4.4" fill="#d0d0d0"/>
<rect x="440.9" y="676.2" width="9.9" height="7.3" fill="#0010a0"/>
<rect x="324.2" y="697" width="6.9" height="4.9" fill="#00d0f0"/>
<rect x="440" y="675.3" width="31.6" height="18.2" fill="#00d0f0"/>
<rect x="440" y="676.8" width="11.9" height="6.7" fill="#0010a0"/>
<rect x="446.9" y="682.2" width="5.3" height="4.9" fill="#0030c0"/>
<rect x="451.9" y="676.8" width="15.8" height="4.7" fill="#0078f0"/>
<rect x="472.6" y="682.8" width="11.9" height="4.7" fill="#60f0f0"/>
<rect x="471.6" y="677.2" width="14.8" height="5.5" fill="#00d0f0"/>
<rect x="472.6" y="687.1" width="34.6" height="6.9" fill="#f0f0f0"/>
<rect x="486.5" y="681.2" width="12.9" height="6.3" fill="#f0f0f0"/>
<rect x="499.3" y="678.2" width="79.1" height="10.5" fill="#d0d0d0"/>
<rect x="507.2" y="688.1" width="4.9" height="5.9" fill="#d0d0d0"/>
<path d="M512.2,688.1 531,688.1 531,695 570.5,695 582.4,699 582.4,706.9 629.8,706.9 629.8,722.7 582.4,722.7 582.4,714.8 536.9,714.8 532.9,706.9 527,699 527,695 512.2,693.1Z" fill="#00d0f0"/>
<rect x="530" y="687.7" width="34.6" height="4.7" fill="#0010a0"/>
<rect x="531" y="695" width="39.5" height="9.9" fill="#0060e0"/>
<rect x="536.9" y="694.6" width="5.9" height="4.7" fill="#0010a0"/>
<rect x="542.8" y="700" width="21.8" height="6.9" fill="#0078f0"/>
<rect x="564.6" y="700" width="15.8" height="6.9" fill="#00b0f0"/>
<rect x="589.3" y="707.3" width="7.9" height="6.5" fill="#00b0f0"/>
<rect x="564.6" y="685.7" width="8.3" height="5.7" fill="#d0d0d0"/>
<rect x="571.5" y="694" width="7.9" height="4.5" fill="#d0d0d0"/>
<rect x="601.2" y="713.8" width="7.9" height="8.9" fill="#60f0f0"/>
<path d="M188.8,908.6 188.8,706.9 342,706.9 342,714.8 391.5,714.8 391.5,706.9 434,706.9 440,706.9 469.7,706.9 469.7,699 476.6,699 476.6,695 507.2,695 507.2,702 517.1,702 517.1,706.9 532.9,706.9 532.9,714.8 536.9,714.8 536.9,722.7 574.5,722.7 574.5,731.6 707.4,731.6 707.4,908.6Z" fill="#f0f0f0"/>
<path d="M188.8,908.6 188.8,731.6 434,731.6 440,731.6 456.8,731.6 456.8,722.7 465.7,722.7 465.7,714.8 476.6,714.8 476.6,699 485.5,699 485.5,695 492.4,695 492.4,699 498.3,699 498.3,714.8 500.3,714.8 500.3,722.7 496.4,722.7 496.4,731.6 542.8,731.6 542.8,741.5 580.4,741.5 580.4,752.4 707.4,752.4 707.4,908.6Z" fill="#f0e800"/>
<path d="M188.8,908.6 188.8,752.4 434,752.4 440,752.4 560.6,752.4 560.6,762.3 707.4,762.3 707.4,908.6Z" fill="#f0c000"/>
<path d="M188.8,908.6 188.8,773.1 434,773.1 440,773.1 590.3,773.1 590.3,784 707.4,784 707.4,908.6Z" fill="#f0a800"/>
<path d="M188.8,908.6 188.8,810.7 434,810.7 440,810.7 707.4,810.7 707.4,908.6Z" fill="#f06000"/>
<path d="M188.8,908.6 188.8,852.2 434,852.2 440,852.2 707.4,852.2 707.4,908.6Z" fill="#e00000"/>
<path d="M188.8,908.6 188.8,881.9 306.4,881.9 306.4,897.7 324.2,897.7 324.2,881.9 340.1,881.9 340.1,897.7 354.9,897.7 354.9,881.9 371.7,881.9 371.7,897.7 387.5,897.7 387.5,881.9 403.3,881.9 403.3,897.7 437.9,897.7 437.9,881.9 444,881.9 454.8,881.9 454.8,897.7 707.4,897.7 707.4,908.6Z" fill="#a00000"/>
<path d="M188.8,692.1 337.1,692.1 337.1,700 326.2,706.9 326.2,714.8 304.5,714.8 304.5,722.7 292.6,722.7 292.6,731.6 274.8,731.6 274.8,752.4 271.8,752.4 269.9,773.1 265.9,773.1 260,784 260,797.9 266.9,797.9 266.9,810.7 272.8,810.7 272.8,825.5 279.7,825.5 279.7,839.4 301.5,839.4 301.5,852.2 308.4,852.2 308.4,867.1 331.2,867.1 331.2,881.9 354.9,881.9 354.9,897.7 431,897.7 431,910.6 188.8,910.6Z" fill="#d0d0d0"/>
<path d="M578.4,692.1 582.4,699 614,706.9 629.8,706.9 629.8,722.7 641.7,722.7 641.7,731.6 657.5,731.6 657.5,741.5 647.6,741.5 647.6,752.4 664.4,752.4 664.4,762.3 655.5,762.3 655.5,784 654.6,784 654.6,797.9 634.8,797.9 634.8,810.7 640.7,810.7 640.7,825.5 630.8,825.5 630.8,839.4 619.9,839.4 619.9,852.2 589.3,852.2 589.3,867.1 573.5,867.1 573.5,881.9 538.9,881.9 538.9,897.7 466.7,897.7 466.7,910.6 708.9,910.6 708.9,692.1Z" fill="#d0d0d0"/>
<path d="M259.5,707.5h6.6v6.6h-6.6zM272.7,707.5h6.6v6.6h-6.6zM286,707.5h6.6v6.6h-6.6zM299.3,707.5h6.6v6.6h-6.6zM312.6,707.5h6.6v6.6h-6.6zM233.4,720.4h6.8v6.6h-6.8zM246.9,720.4h6.8v6.6h-6.8zM260.4,720.4h6.8v6.6h-6.8zM273.9,720.4h6.8v6.6h-6.8zM287.4,720.4h6.8v6.6h-6.8z" fill="#f0f0f0"/>
<path d="M207.4,734.4h4.9v6.6h-4.9zM220.2,734.4h6.9v6.6h-6.9zM233.9,734.4h6.9v6.6h-6.9zM247.7,734.4h6.9v6.6h-6.9zM261.4,734.4h6.9v6.6h-6.9zM207.5,744.2h5v6.6h-5zM220.4,744.2h7v6.6h-7zM234.3,744.2h7v6.6h-7zM248.2,744.2h7v6.6h-7zM262.1,744.2h7v6.6h-7z" fill="#f0e800"/>
<path d="M207.5,754.5h5.1v6.6h-5.1zM220.6,754.5h7v6.6h-7zM234.7,754.5h7v6.6h-7zM248.8,754.5h7v6.6h-7zM262.9,754.5h7v6.6h-7zM207.6,765.2h5.2v6.6h-5.2zM220.8,765.2h7.1v6.6h-7.1zM235.1,765.2h7.1v6.6h-7.1zM249.4,765.2h7.1v6.6h-7.1zM263.6,765.2h7.1v6.6h-7.1z" fill="#f0c000"/>
<path d="M207.6,777h5.3v6.6h-5.3zM221.1,777h7.2v6.6h-7.2zM235.5,777h7.2v6.6h-7.2zM250,777h7.2v6.6h-7.2zM207.7,789.6h5.4v6.6h-5.4zM221.4,789.6h7.3v6.6h-7.3zM236,789.6h7.3v6.6h-7.3zM250.7,789.6h7.3v6.6h-7.3zM207.7,802.4h5.5v6.6h-5.5zM221.6,802.4h7.4v6.6h-7.4zM236.5,802.4h7.4v6.6h-7.4zM251.4,802.4h7.4v6.6h-7.4z" fill="#f0a800"/>
<path d="M207.8,815.1h5.6v6.6h-5.6zM221.9,815.1h7.6v6.6h-7.6zM237,815.1h7.6v6.6h-7.6zM252.1,815.1h7.6v6.6h-7.6zM267.2,815.1h7.6v6.6h-7.6zM207.8,828.3h5.7v7.1h-5.7zM222.2,828.3h7.7v7.1h-7.7zM237.5,828.3h7.7v7.1h-7.7zM252.9,828.3h7.7v7.1h-7.7zM268.2,828.3h7.7v7.1h-7.7zM207.9,842.8h5.8v7.5h-5.8zM222.5,842.8h7.8v7.5h-7.8zM238.1,842.8h7.8v7.5h-7.8zM253.7,842.8h7.8v7.5h-7.8zM269.3,842.8h7.8v7.5h-7.8zM284.9,842.8h7.8v7.5h-7.8z" fill="#f06000"/>
<path d="M207.9,857.8h6v7.5h-6zM222.8,857.8h7.9v7.5h-7.9zM238.7,857.8h7.9v7.5h-7.9zM254.5,857.8h7.9v7.5h-7.9zM270.4,857.8h7.9v7.5h-7.9zM286.2,857.8h7.9v7.5h-7.9zM302,857.8h7.9v7.5h-7.9zM208,872.9h6.1v7.8h-6.1zM223.1,872.9h8.1v7.8h-8.1zM239.2,872.9h8.1v7.8h-8.1zM255.3,872.9h8.1v7.8h-8.1zM271.5,872.9h8.1v7.8h-8.1zM287.6,872.9h8.1v7.8h-8.1zM303.7,872.9h8.1v7.8h-8.1zM319.8,872.9h8.1v7.8h-8.1zM305.3,888.5h8.2v7.9h-8.2zM338.1,888.5h8.2v7.9h-8.2z" fill="#e00000"/>
<path d="M208.1,888.5h6.3v7.9h-6.3zM223.5,888.5h8.2v7.9h-8.2zM239.8,888.5h8.2v7.9h-8.2zM256.2,888.5h8.2v7.9h-8.2zM272.6,888.5h8.2v7.9h-8.2zM289,888.5h8.2v7.9h-8.2zM321.7,888.5h8.2v7.9h-8.2zM208.1,901.2h6.4v6.6h-6.4zM223.7,901.2h8.3v6.6h-8.3zM240.3,901.2h8.3v6.6h-8.3zM256.9,901.2h8.3v6.6h-8.3zM273.5,901.2h8.3v6.6h-8.3zM290,901.2h8.3v6.6h-8.3zM306.6,901.2h8.3v6.6h-8.3zM323.2,901.2h8.3v6.6h-8.3zM339.8,901.2h8.3v6.6h-8.3zM356.3,901.2h8.3v6.6h-8.3zM372.9,901.2h8.3v6.6h-8.3zM389.5,901.2h8.3v6.6h-8.3zM406.1,901.2h8.3v6.6h-8.3zM422.7,901.2h8.3v6.6h-8.3z" fill="#a00000"/>
<path d="M643.7,707.5h6.6v6.6h-6.6zM657,707.5h6.6v6.6h-6.6zM670.3,707.5h6.6v6.6h-6.6zM646.6,720.4h6.8v6.6h-6.8zM660.1,720.4h6.8v6.6h-6.8zM673.6,720.4h6.8v6.6h-6.8zM688.2,720.4h4.6v6.6h-4.6z" fill="#60f0f0"/>
<path d="M663.5,734.4h6.9v6.6h-6.9zM677.3,734.4h6.9v6.6h-6.9zM692.7,734.4h3.6v6.6h-3.6zM652,744.2h7v6.6h-7zM665.9,744.2h7v6.6h-7zM679.8,744.2h6.9v6.6h-6.9z" fill="#f0f0f0"/>
<path d="M668.4,754.5h7v6.6h-7zM682.9,754.5h6.2v6.6h-6.2z" fill="#f0e800"/>
<path d="M656.7,765.2h7.1v6.6h-7.1zM671,765.2h7.1v6.6h-7.1zM686.1,765.2h5.4v6.6h-5.4zM659.4,777h7.2v6.6h-7.2zM673.8,777h7.2v6.6h-7.2zM689.7,777h4.5v6.6h-4.5z" fill="#f0c000"/>
<path d="M662.2,789.6h7.3v6.6h-7.3zM676.9,789.6h7.3v6.6h-7.3zM635.3,802.4h7.4v6.6h-7.4zM650.2,802.4h7.4v6.6h-7.4zM665.1,802.4h7.4v6.6h-7.4zM680.1,802.4h7.2v6.6h-7.2z" fill="#f0a800"/>
<path d="M637.7,815.1h7.6v6.6h-7.6zM652.8,815.1h7.6v6.6h-7.6zM668,815.1h7.6v6.6h-7.6zM683.7,815.1h6.3v6.6h-6.3zM640.3,828.3h7.7v7.1h-7.7zM655.7,828.3h7.7v7.1h-7.7zM671,828.3h7.7v7.1h-7.7zM687.5,828.3h5.4v7.1h-5.4zM627.5,842.8h7.8v7.5h-7.8zM643.1,842.8h7.8v7.5h-7.8zM658.7,842.8h7.8v7.5h-7.8zM674.3,842.8h7.8v7.5h-7.8zM691.6,842.8h4.3v7.5h-4.3z" fill="#f06000"/>
<path d="M598.4,857.8h7.9v7.5h-7.9zM614.3,857.8h7.9v7.5h-7.9zM630.1,857.8h7.9v7.5h-7.9zM646,857.8h7.9v7.5h-7.9zM661.8,857.8h7.9v7.5h-7.9zM677.7,857.8h7.9v7.5h-7.9zM584.5,872.9h8.1v7.8h-8.1zM600.6,872.9h8.1v7.8h-8.1zM616.7,872.9h8.1v7.8h-8.1zM632.8,872.9h8.1v7.8h-8.1zM648.9,872.9h8.1v7.8h-8.1zM665,872.9h8.1v7.8h-8.1zM681.5,872.9h7.3v7.8h-7.3zM537.3,888.5h8.2v7.9h-8.2zM553.7,888.5h8.2v7.9h-8.2zM570,888.5h8.2v7.9h-8.2zM586.4,888.5h8.2v7.9h-8.2zM602.8,888.5h8.2v7.9h-8.2zM619.1,888.5h8.2v7.9h-8.2zM635.5,888.5h8.2v7.9h-8.2zM651.9,888.5h8.2v7.9h-8.2zM668.3,888.5h8.2v7.9h-8.2zM685.6,888.5h6.2v7.9h-6.2z" fill="#e00000"/>
<path d="M471.8,901.2h8.3v6.6h-8.3zM488.4,901.2h8.3v6.6h-8.3zM505,901.2h8.3v6.6h-8.3zM521.6,901.2h8.3v6.6h-8.3zM538.2,901.2h8.3v6.6h-8.3zM554.7,901.2h8.3v6.6h-8.3zM571.3,901.2h8.3v6.6h-8.3zM587.9,901.2h8.3v6.6h-8.3zM604.5,901.2h8.3v6.6h-8.3zM621,901.2h8.3v6.6h-8.3zM637.6,901.2h8.3v6.6h-8.3zM654.2,901.2h8.3v6.6h-8.3zM670.8,901.2h8.3v6.6h-8.3zM688.8,901.2h5.4v6.6h-5.4z" fill="#a00000"/>
<rect x="694.1" y="856.2" width="11.9" height="12.9" fill="#e00000"/>
</g>
<line x1="188.8" y1="694" x2="709" y2="694" stroke="#30e0e8" stroke-width="1.6"/>
<polyline points="362.8,685.1 387.5,680.2 417.2,675.3 440,672.2 459.8,671.3 489.4,676.2 519,679.2 547.8,681.6" fill="none" stroke="#30e030" stroke-width="1.6"/>
<line x1="188.8" y1="651.5" x2="188.8" y2="909.6" stroke="#303030" stroke-width="2"/>
<line x1="709" y1="651.5" x2="709" y2="909.6" stroke="#303030" stroke-width="2"/>
<line x1="187.8" y1="908.6" x2="710" y2="908.6" stroke="#303030" stroke-width="2"/>
<line x1="188.8" y1="694" x2="199.8" y2="694" stroke="#303030" stroke-width="1.6"/>
<line x1="698" y1="694" x2="709" y2="694" stroke="#303030" stroke-width="1.6"/>
<line x1="188.8" y1="743.5" x2="199.8" y2="743.5" stroke="#303030" stroke-width="1.6"/>
<line x1="698" y1="743.5" x2="709" y2="743.5" stroke="#303030" stroke-width="1.6"/>
<line x1="188.8" y1="795.9" x2="199.8" y2="795.9" stroke="#303030" stroke-width="1.6"/>
<line x1="698" y1="795.9" x2="709" y2="795.9" stroke="#303030" stroke-width="1.6"/>
<line x1="188.8" y1="847.3" x2="199.8" y2="847.3" stroke="#303030" stroke-width="1.6"/>
<line x1="698" y1="847.3" x2="709" y2="847.3" stroke="#303030" stroke-width="1.6"/>
<line x1="188.8" y1="897.7" x2="199.8" y2="897.7" stroke="#303030" stroke-width="1.6"/>
<line x1="698" y1="897.7" x2="709" y2="897.7" stroke="#303030" stroke-width="1.6"/>
<clipPath id="clip_d"><path d="M207.5,1012 271.2,1011.2 305,1007.8 344,1004.4 369.5,1001 386.4,999.3 417,995 424,995.3 440,998.5 455.4,1002.7 496,1007.8 572.4,1009 615.6,1011.6 747.8,1011.6 750.4,1010 790,1010 834,1012.4 835.3,1009.8 859.5,1009.8 892.5,1015.4 943.4,1018 979,1023 994.3,1021.8 1022.2,1017.5 1045,1017.5 1052.7,1015.4 1070.5,1015.4 1070.5,1259.4 207.5,1259.4Z"/></clipPath>
<g clip-path="url(#clip_d)" shape-rendering="crispEdges">
<rect x="207.5" y="989.3" width="863" height="270.1" fill="#d0d0d0"/>
<path d="M207.6,1259.4 207.6,1026.4 281.4,1026.4 281.4,1013.7 440,1013.7 430,1028.1 609.3,1028.1 609.3,1011.6 790,1011.6 772.3,1011.6 996.8,1011.6 996.8,1028.1 1070.5,1028.1 1070.5,1259.4Z" fill="#60f0f0"/>
<rect x="281.4" y="1006.9" width="88.1" height="19.5" fill="#00d0f0"/>
<rect x="261.9" y="1020.5" width="12.7" height="5.4" fill="#00d0f0"/>
<rect x="289" y="1026.4" width="31.4" height="6.3" fill="#00d0f0"/>
<rect x="292.4" y="1032.4" width="19.5" height="7.1" fill="#00d0f0"/>
<rect x="230.5" y="1033.2" width="20.3" height="7.6" fill="#00d0f0"/>
<rect x="339.8" y="1006.9" width="20.3" height="6.3" fill="#00d0f0"/>
<rect x="290.7" y="1013.4" width="3.7" height="6.8" fill="#0078f0"/>
<rect x="305.9" y="1013.4" width="4.6" height="6.8" fill="#0078f0"/>
<rect x="360.2" y="1006.1" width="32.2" height="19.2" fill="#d0d0d0"/>
<rect x="294.9" y="1013.4" width="10.5" height="6.8" fill="#d0d0d0"/>
<rect x="372" y="1007.8" width="5.1" height="5.4" fill="#60f0f0"/>
<rect x="376.3" y="1006.1" width="17.8" height="8" fill="#f0f0f0"/>
<rect x="391.5" y="1013.4" width="41.5" height="7.5" fill="#f0f0f0"/>
<rect x="383.1" y="996.8" width="57.6" height="10.2" fill="#00d0f0"/>
<rect x="405.1" y="1000.5" width="17.3" height="6.4" fill="#00b0f0"/>
<rect x="394.9" y="1006.9" width="20.3" height="6.4" fill="#60f0f0"/>
<rect x="415.3" y="1006.9" width="25.4" height="6.4" fill="#00d0f0"/>
<rect x="393.2" y="1020.5" width="34.7" height="4.7" fill="#f0e800"/>
<rect x="427.1" y="1013.7" width="13.6" height="11.5" fill="#f0c000"/>
<rect x="430" y="997.6" width="8.1" height="16.5" fill="#00d0f0"/>
<rect x="437.6" y="1005.3" width="16.5" height="8.9" fill="#60f0f0"/>
<rect x="432.5" y="1014.2" width="18.3" height="5.8" fill="#f0e800"/>
<rect x="431.3" y="1019.2" width="17.8" height="6.4" fill="#f0c000"/>
<rect x="454.2" y="1004" width="22.9" height="22.1" fill="#d0d0d0"/>
<rect x="558.4" y="1010.3" width="50.9" height="17" fill="#d0d0d0"/>
<rect x="576.2" y="1019.2" width="4.3" height="4.3" fill="#60f0f0"/>
<rect x="586.4" y="1019.2" width="4.3" height="4.3" fill="#60f0f0"/>
<rect x="595.3" y="1020.5" width="14" height="5.1" fill="#f0f0f0"/>
<rect x="609.3" y="1011.6" width="181.8" height="16.5" fill="#00d0f0"/>
<rect x="674.1" y="1028.1" width="117" height="11.4" fill="#00d0f0"/>
<rect x="618.2" y="1014.2" width="12.7" height="5.1" fill="#00b0f0"/>
<rect x="674.1" y="1028.1" width="45.8" height="4.3" fill="#00b0f0"/>
<rect x="679.2" y="1020.5" width="106.8" height="3.8" fill="#00b0f0"/>
<rect x="660.1" y="1014.2" width="10.2" height="5.1" fill="#00b0f0"/>
<rect x="705.9" y="1014.2" width="5.1" height="5.1" fill="#00b0f0"/>
<rect x="768.2" y="1014.2" width="7.6" height="5.1" fill="#00b0f0"/>
<rect x="641" y="1014.2" width="19.1" height="5.1" fill="#d0d0d0"/>
<rect x="671.5" y="1014.2" width="34.3" height="5.1" fill="#d0d0d0"/>
<rect x="712.2" y="1014.2" width="33.1" height="5.1" fill="#d0d0d0"/>
<rect x="778.3" y="1014.2" width="12.7" height="5.1" fill="#d0d0d0"/>
<rect x="772.3" y="1011.6" width="107.6" height="20.3" fill="#00d0f0"/>
<rect x="740" y="1028.1" width="45.8" height="11.4" fill="#00d0f0"/>
<rect x="803.6" y="1028.1" width="50.9" height="4.3" fill="#00d0f0"/>
<rect x="854.4" y="1028.1" width="33.1" height="11.4" fill="#00b0f0"/>
<rect x="938.3" y="1028.1" width="17.8" height="3.8" fill="#00b0f0"/>
<rect x="971.4" y="1028.1" width="12.7" height="11.4" fill="#00b0f0"/>
<rect x="816.3" y="1014.2" width="7.6" height="5.1" fill="#00b0f0"/>
<rect x="768" y="1014.2" width="7.6" height="5.1" fill="#00b0f0"/>
<rect x="750.2" y="1020.5" width="28" height="3.8" fill="#00b0f0"/>
<rect x="793.4" y="1020.5" width="12.7" height="3.8" fill="#00b0f0"/>
<rect x="864.6" y="1014.2" width="7.6" height="5.8" fill="#0078f0"/>
<rect x="740" y="1012.9" width="28" height="6.4" fill="#d0d0d0"/>
<rect x="778.1" y="1012.9" width="38.1" height="6.4" fill="#d0d0d0"/>
<rect x="877.3" y="1014.2" width="68.6" height="13.2" fill="#d0d0d0"/>
<rect x="907.8" y="1028.1" width="30.5" height="11.4" fill="#d0d0d0"/>
<rect x="957.4" y="1028.1" width="12.7" height="11.4" fill="#d0d0d0"/>
<rect x="1022.2" y="1028.1" width="48.3" height="11.4" fill="#d0d0d0"/>
<rect x="943.4" y="1020.5" width="127.1" height="7.6" fill="#d0d0d0"/>
<rect x="996.8" y="1028.1" width="25.4" height="5.1" fill="#f0f0f0"/>
<path d="M207.6,1259.4 207.6,1057.8 261.9,1057.8 261.9,1049.3 267.8,1049.3 267.8,1040.8 285.6,1040.8 285.6,1049.3 310.2,1049.3 310.2,1040.8 349.2,1040.8 349.2,1032.4 352.5,1032.4 352.5,1029 369.5,1029 369.5,1026.4 440,1026.4 439.9,1028.1 615.6,1028.1 615.6,1039.6 684.3,1039.6 684.3,1048.5 790,1048.5 790.1,1048.5 811.2,1048.5 811.2,1039.6 854.4,1039.6 854.4,1048.5 907.8,1048.5 907.8,1039.6 920.5,1039.6 920.5,1048.5 938.3,1048.5 938.3,1039.6 971.4,1039.6 971.4,1048.5 976.5,1048.5 976.5,1039.6 996.8,1039.6 996.8,1033.7 1037.5,1033.7 1037.5,1039.6 1060.4,1039.6 1060.4,1048.5 1070.5,1048.5 1070.5,1259.4Z" fill="#f0f0f0"/>
<path d="M207.6,1259.4 207.6,1088.3 239.8,1088.3 239.8,1078.1 288.1,1078.1 288.1,1067.1 335.6,1067.1 335.6,1057.8 343.2,1057.8 343.2,1049.3 353.4,1049.3 353.4,1040.8 358.5,1040.8 358.5,1032.4 369.5,1032.4 369.5,1029 374.6,1029 374.6,1026.4 440,1026.4 439.9,1028.1 599.1,1028.1 599.1,1032 608,1032 608,1039.6 620.7,1039.6 620.7,1048.5 643.6,1048.5 643.6,1057.4 652.5,1057.4 652.5,1067.5 790,1067.5 790.1,1067.5 870.9,1067.5 870.9,1077.7 877.3,1077.7 877.3,1067.5 882.4,1067.5 882.4,1077.7 890,1077.7 890,1067.5 895.1,1067.5 895.1,1077.7 902.7,1077.7 902.7,1067.5 1005.7,1067.5 1005.7,1039.6 1027.3,1039.6 1027.3,1048.5 1034.9,1048.5 1034.9,1067.5 1070.5,1067.5 1070.5,1259.4Z" fill="#f0e800"/>
<path d="M207.6,1259.4 207.6,1100.2 274.6,1100.2 274.6,1088.3 326.3,1088.3 326.3,1078.1 339.8,1078.1 339.8,1067.1 346.6,1067.1 346.6,1057.8 354.2,1057.8 354.2,1049.3 363.6,1049.3 363.6,1040.8 374.6,1040.8 374.6,1032.4 386.4,1032.4 386.4,1029 440,1029 439.9,1028.1 582.6,1028.1 582.6,1032 599.1,1032 599.1,1039.6 608,1039.6 608,1048.5 623.2,1048.5 623.2,1057.4 638.5,1057.4 638.5,1067.5 655,1067.5 655,1077.7 674.1,1077.7 674.1,1089.2 790,1089.2 790.1,1089.2 1070.5,1089.2 1070.5,1259.4Z" fill="#f0c000"/>
<path d="M207.6,1259.4 207.6,1124.7 236.4,1124.7 236.4,1112 317.8,1112 317.8,1100.2 331.4,1100.2 331.4,1088.3 335.6,1088.3 335.6,1078.1 350.8,1078.1 350.8,1067.1 355.9,1067.1 355.9,1057.8 376.3,1057.8 376.3,1049.3 379.7,1049.3 379.7,1040.8 408.5,1040.8 408.5,1032.4 423.7,1032.4 423.7,1029 440,1029 439.9,1028.1 521.5,1028.1 521.5,1014.2 558.4,1014.2 558.4,1028.1 576.2,1028.1 576.2,1032 582.6,1032 582.6,1039.6 592.7,1039.6 592.7,1048.5 608,1048.5 608,1057.4 624.5,1057.4 624.5,1067.5 643.6,1067.5 643.6,1077.7 657.6,1077.7 657.6,1089.2 671.5,1089.2 671.5,1100.6 693.2,1100.6 693.2,1113.3 790,1113.3 790.1,1113.3 1070.5,1113.3 1070.5,1259.4Z" fill="#f0a800"/>
<path d="M207.6,1259.4 207.6,1150.2 287.3,1150.2 287.3,1137.5 303.4,1137.5 303.4,1124.7 317.8,1124.7 317.8,1112 328.8,1112 328.8,1100.2 341.5,1100.2 341.5,1088.3 355.1,1088.3 355.1,1078.1 370.3,1078.1 370.3,1067.1 389.8,1067.1 389.8,1057.8 404.2,1057.8 404.2,1049.3 423.7,1049.3 423.7,1040.8 440,1040.8 439.9,1039.6 447,1039.6 447,1032 454.2,1032 454.2,1028.1 458,1028.1 458,1014.2 521.5,1014.2 521.5,1028.1 535.5,1028.1 535.5,1032 545.7,1032 545.7,1039.6 577.5,1039.6 577.5,1048.5 582.6,1048.5 582.6,1057.4 595.3,1057.4 595.3,1067.5 613.1,1067.5 613.1,1077.7 630.9,1077.7 630.9,1089.2 649.9,1089.2 649.9,1100.6 670.3,1100.6 670.3,1113.3 693.2,1113.3 693.2,1124.8 717.3,1124.8 717.3,1137.5 740.2,1137.5 740.2,1150.2 790,1150.2 790.1,1150.2 1070.5,1150.2 1070.5,1259.4Z" fill="#f06000"/>
<rect x="487.2" y="1013.6" width="10.9" height="6.1" fill="#d0d0d0"/>
<rect x="477" y="1013.6" width="7.6" height="6.1" fill="#f0a800"/>
<rect x="455.4" y="1004" width="21.6" height="16.5" fill="#d0d0d0"/>
<path d="M207.5,1259.4 207.5,1195.8 247.2,1195.8 247.2,1179.9 277.4,1179.9 277.4,1165.6 290.1,1165.6 289.8,1150.2 311,1150.2 311,1137.5 326.3,1137.5 326.3,1124.7 339,1124.7 339,1112 360.2,1112 360.2,1100.2 372.9,1100.2 372.9,1088.3 387.3,1088.3 387.3,1078.1 406.8,1078.1 406.8,1067.1 430.5,1067.1 430.5,1057.8 440,1057.8 439.9,1057.4 447.8,1057.4 447.8,1048.5 454.2,1048.5 454.2,1039.6 460.5,1039.6 460.5,1032 488.5,1032 488.5,1039.6 525.3,1039.6 525.3,1048.5 534.2,1048.5 534.2,1057.4 549.5,1057.4 549.5,1067.5 578.7,1067.5 578.7,1077.7 597.8,1077.7 597.8,1089.2 611.8,1089.2 611.8,1100.6 632.1,1100.6 632.1,1113.3 661.4,1113.3 661.4,1124.8 684.3,1124.8 684.3,1137.5 705.9,1137.5 705.9,1150.2 731.3,1150.2 731.3,1164.2 761.8,1164.2 761.8,1179.4 795.9,1179.4 795.9,1194.7 1070.5,1194.7 1070.5,1259.4Z" fill="#e00000"/>
<path d="M207.5,1259.4 207.5,1211.7 245.6,1211.7 245.6,1195.8 277.4,1195.8 277.4,1179.9 302.8,1179.9 302.8,1165.6 313.9,1165.6 314.4,1150.2 344.9,1150.2 344.9,1137.5 361,1137.5 361,1124.7 385.6,1124.7 385.6,1112 397.5,1112 397.5,1100.2 422,1100.2 422,1088.3 440,1088.3 440.2,1089.2 440.2,1077.7 460.5,1077.7 460.5,1067.5 508.8,1067.5 508.8,1077.7 544.4,1077.7 544.4,1089.2 559.7,1089.2 559.7,1100.6 587.6,1100.6 587.6,1113.3 611.8,1113.3 611.8,1124.8 633.4,1124.8 633.4,1137.5 661.4,1137.5 661.4,1150.2 686.8,1150.2 686.8,1164.2 713.5,1164.2 713.5,1179.4 755.5,1179.4 755.5,1194.7 784.7,1194.7 784.7,1209.9 815,1209.9 815,1227.7 858.2,1227.7 858.2,1244.3 1070.5,1244.3 1070.5,1259.4Z" fill="#a00000"/>
<path d="M207.6,1006.9 288.1,1006.9 288.1,1028.1 250.8,1028.1 250.8,1033.2 230.5,1033.2 230.5,1040.8 236.4,1040.8 236.4,1048.5 223.7,1048.5 223.7,1057.8 215.3,1057.8 215.3,1065.4 207.6,1065.4Z" fill="#d0d0d0"/>
<path d="M207.5,1151.3 218.6,1151.3 218.6,1165.6 232.9,1165.6 232.9,1179.9 247.2,1179.9 247.2,1195.8 277.4,1195.8 277.4,1211.7 337.8,1211.7 337.8,1228.6 498.3,1228.6 498.3,1245.1 591.1,1245.1 591.1,1264.1 207.5,1264.1Z" fill="#d0d0d0"/>
<path d="M1055.3,1165.4 1070.5,1165.4 1070.5,1262.1 809.9,1262.1 809.9,1244.3 910.4,1244.3 910.4,1227.7 956.1,1227.7 956.1,1209.9 1003.2,1209.9 1003.2,1194.7 1038.8,1194.7 1038.8,1180.7 1055.3,1180.7Z" fill="#d0d0d0"/>
<path d="M211.8,1154.8h6.6v7.4h-6.6zM211.8,1168.6h6.6v8.4h-6.6zM225,1168.6h6.6v8.4h-6.6zM211.8,1184h6.6v8.8h-6.6zM225,1184h6.6v8.8h-6.6zM238.2,1184h6.6v8.8h-6.6z" fill="#f06000"/>
<path d="M211.8,1199.9h6.6v8.8h-6.6zM225,1199.9h6.6v8.8h-6.6zM238.2,1199.9h6.6v8.8h-6.6z" fill="#e00000"/>
<path d="M251.4,1199.9h6.6v8.8h-6.6zM264.6,1199.9h6.6v8.8h-6.6zM211.8,1216h6.6v9.1h-6.6zM225,1216h6.6v9.1h-6.6zM238.2,1216h6.6v9.1h-6.6zM251.4,1216h6.6v9.1h-6.6zM264.6,1216h6.6v9.1h-6.6zM277.8,1216h6.6v9.1h-6.6zM291,1216h6.6v9.1h-6.6zM304.2,1216h6.6v9.1h-6.6zM317.4,1216h6.6v9.1h-6.6zM330.6,1216h6.6v9.1h-6.6zM211.8,1232.5h6.6v9.2h-6.6zM225,1232.5h6.6v9.2h-6.6zM238.2,1232.5h6.6v9.2h-6.6zM251.4,1232.5h6.6v9.2h-6.6zM264.6,1232.5h6.6v9.2h-6.6zM277.8,1232.5h6.6v9.2h-6.6zM291,1232.5h6.6v9.2h-6.6zM304.2,1232.5h6.6v9.2h-6.6zM317.4,1232.5h6.6v9.2h-6.6zM330.6,1232.5h6.6v9.2h-6.6zM343.8,1232.5h6.6v9.2h-6.6zM357,1232.5h6.6v9.2h-6.6zM370.2,1232.5h6.6v9.2h-6.6zM383.4,1232.5h6.6v9.2h-6.6zM396.6,1232.5h6.6v9.2h-6.6zM409.8,1232.5h6.6v9.2h-6.6zM423,1232.5h6.6v9.2h-6.6zM436.2,1232.5h6.6v9.2h-6.6zM449.4,1232.5h6.6v9.2h-6.6zM462.6,1232.5h6.6v9.2h-6.6zM475.8,1232.5h6.6v9.2h-6.6zM489,1232.5h6.6v9.2h-6.6zM211.8,1248.6h6.6v7.7h-6.6zM225,1248.6h6.6v7.7h-6.6zM238.2,1248.6h6.6v7.7h-6.6zM251.4,1248.6h6.6v7.7h-6.6zM264.6,1248.6h6.6v7.7h-6.6zM277.8,1248.6h6.6v7.7h-6.6zM291,1248.6h6.6v7.7h-6.6zM304.2,1248.6h6.6v7.7h-6.6zM317.4,1248.6h6.6v7.7h-6.6zM330.6,1248.6h6.6v7.7h-6.6zM343.8,1248.6h6.6v7.7h-6.6zM357,1248.6h6.6v7.7h-6.6zM370.2,1248.6h6.6v7.7h-6.6zM383.4,1248.6h6.6v7.7h-6.6zM396.6,1248.6h6.6v7.7h-6.6zM409.8,1248.6h6.6v7.7h-6.6zM423,1248.6h6.6v7.7h-6.6zM436.2,1248.6h6.6v7.7h-6.6zM449.4,1248.6h6.6v7.7h-6.6zM462.6,1248.6h6.6v7.7h-6.6zM475.8,1248.6h6.6v7.7h-6.6zM489,1248.6h6.6v7.7h-6.6zM502.2,1248.6h6.6v7.7h-6.6zM515.4,1248.6h6.6v7.7h-6.6zM528.6,1248.6h6.6v7.7h-6.6zM541.8,1248.6h6.6v7.7h-6.6zM555,1248.6h6.6v7.7h-6.6zM568.2,1248.6h6.6v7.7h-6.6zM581.4,1248.6h6.6v7.7h-6.6z" fill="#a00000"/>
<path d="M1059.6,1168.6h6.8v8.4h-6.8zM1046,1184h6.8v8.8h-6.8zM1059.6,1184h6.8v8.8h-6.8z" fill="#f06000"/>
<path d="M1005.2,1199.9h6.8v8.8h-6.8zM1018.8,1199.9h6.8v8.8h-6.8zM1032.4,1199.9h6.8v8.8h-6.8zM1046,1199.9h6.8v8.8h-6.8zM1059.6,1199.9h6.8v8.8h-6.8zM964.4,1216h6.8v9.1h-6.8zM978,1216h6.8v9.1h-6.8zM991.6,1216h6.8v9.1h-6.8zM1005.2,1216h6.8v9.1h-6.8zM1018.8,1216h6.8v9.1h-6.8zM1032.4,1216h6.8v9.1h-6.8zM1046,1216h6.8v9.1h-6.8zM1059.6,1216h6.8v9.1h-6.8zM910,1232.5h6.8v9.2h-6.8zM923.6,1232.5h6.8v9.2h-6.8zM937.2,1232.5h6.8v9.2h-6.8zM950.8,1232.5h6.8v9.2h-6.8zM964.4,1232.5h6.8v9.2h-6.8zM978,1232.5h6.8v9.2h-6.8zM991.6,1232.5h6.8v9.2h-6.8zM1005.2,1232.5h6.8v9.2h-6.8zM1018.8,1232.5h6.8v9.2h-6.8zM1032.4,1232.5h6.8v9.2h-6.8zM1046,1232.5h6.8v9.2h-6.8zM1059.6,1232.5h6.8v9.2h-6.8z" fill="#e00000"/>
<path d="M814.8,1248.6h6.8v7.7h-6.8zM828.4,1248.6h6.8v7.7h-6.8zM842,1248.6h6.8v7.7h-6.8zM855.6,1248.6h6.8v7.7h-6.8zM869.2,1248.6h6.8v7.7h-6.8zM882.8,1248.6h6.8v7.7h-6.8zM896.4,1248.6h6.8v7.7h-6.8zM910,1248.6h6.8v7.7h-6.8zM923.6,1248.6h6.8v7.7h-6.8zM937.2,1248.6h6.8v7.7h-6.8zM950.8,1248.6h6.8v7.7h-6.8zM964.4,1248.6h6.8v7.7h-6.8zM978,1248.6h6.8v7.7h-6.8zM991.6,1248.6h6.8v7.7h-6.8zM1005.2,1248.6h6.8v7.7h-6.8zM1018.8,1248.6h6.8v7.7h-6.8zM1032.4,1248.6h6.8v7.7h-6.8zM1046,1248.6h6.8v7.7h-6.8zM1059.6,1248.6h6.8v7.7h-6.8z" fill="#a00000"/>
<rect x="207.6" y="1040.8" width="5.9" height="5.9" fill="#60f0f0"/>
<rect x="209.3" y="1029.8" width="11" height="4.2" fill="#00d0f0"/>
<rect x="240.7" y="1023.9" width="5.1" height="5.9" fill="#00d0f0"/>
<rect x="261.9" y="1020.5" width="12.7" height="5.4" fill="#00d0f0"/>
<line x1="591.5" y1="1258.2" x2="815" y2="1258.2" stroke="#e8e8e8" stroke-width="1.4" stroke-dasharray="6 4"/>
</g>
<line x1="207.5" y1="1026.4" x2="1070.5" y2="1026.4" stroke="#30e0e8" stroke-width="1.6"/>
<polyline points="207.5,1012 271.2,1011.2 305,1007.8 344,1004.4 369.5,1001 386.4,999.3 417,995 424,995.3 440,998.5 455.4,1002.7 496,1007.8 572.4,1009 615.6,1011.6 747.8,1011.6 750.4,1010 790,1010 834,1012.4 835.3,1009.8 859.5,1009.8 892.5,1015.4 943.4,1018 979,1023 994.3,1021.8 1022.2,1017.5 1045,1017.5 1052.7,1015.4 1070.5,1015.4" fill="none" stroke="#30e030" stroke-width="1.6"/>
<line x1="207.5" y1="989.3" x2="207.5" y2="1260.4" stroke="#303030" stroke-width="2"/>
<line x1="1070.5" y1="989.3" x2="1070.5" y2="1260.4" stroke="#303030" stroke-width="2"/>
<line x1="206.5" y1="1259.4" x2="1071.5" y2="1259.4" stroke="#303030" stroke-width="2"/>
<line x1="207.5" y1="1025.8" x2="218.5" y2="1025.8" stroke="#303030" stroke-width="1.6"/>
<line x1="1059.5" y1="1025.8" x2="1070.5" y2="1025.8" stroke="#303030" stroke-width="1.6"/>
<line x1="207.5" y1="1079.8" x2="218.5" y2="1079.8" stroke="#303030" stroke-width="1.6"/>
<line x1="1059.5" y1="1079.8" x2="1070.5" y2="1079.8" stroke="#303030" stroke-width="1.6"/>
<line x1="207.5" y1="1134.5" x2="218.5" y2="1134.5" stroke="#303030" stroke-width="1.6"/>
<line x1="1059.5" y1="1134.5" x2="1070.5" y2="1134.5" stroke="#303030" stroke-width="1.6"/>
<line x1="207.5" y1="1190.4" x2="218.5" y2="1190.4" stroke="#303030" stroke-width="1.6"/>
<line x1="1059.5" y1="1190.4" x2="1070.5" y2="1190.4" stroke="#303030" stroke-width="1.6"/>
<line x1="207.5" y1="1244.4" x2="218.5" y2="1244.4" stroke="#303030" stroke-width="1.6"/>
<line x1="1059.5" y1="1244.4" x2="1070.5" y2="1244.4" stroke="#303030" stroke-width="1.6"/>
<clipPath id="clip_e"><path d="M207.3,1368.6 225.6,1368.6 273.9,1373.7 296.8,1373.7 329.8,1367.4 379.4,1356.4 401,1357.2 411.2,1361 463.3,1349.6 507.8,1362.3 540.9,1367 575.6,1363.6 687.5,1362.3 720.5,1359 784,1359.8 819.7,1362.3 844.2,1362.3 928.2,1370 1004.4,1375.5 1050.2,1375.5 1054,1373.7 1070.5,1373.7 1070.5,1617.8 207.3,1617.8Z"/></clipPath>
<g clip-path="url(#clip_e)" shape-rendering="crispEdges">
<rect x="207.3" y="1317.8" width="863.2" height="300" fill="#d0d0d0"/>
<path d="M207.3,1617.8 207.3,1340 1070.5,1340 1070.5,1617.8Z" fill="#60f0f0"/>
<rect x="207.3" y="1345.8" width="122.6" height="38.1" fill="#d0d0d0"/>
<rect x="328.6" y="1345.8" width="20.3" height="37.4" fill="#f0f0f0"/>
<rect x="348.9" y="1345.8" width="45.8" height="38.6" fill="#00b0f0"/>
<rect x="388.3" y="1372.5" width="55.9" height="12" fill="#f0f0f0"/>
<rect x="393.4" y="1364.8" width="18.3" height="11.4" fill="#60f0f0"/>
<rect x="404.8" y="1373.7" width="25.4" height="10.2" fill="#d0d0d0"/>
<rect x="423.9" y="1345.8" width="83.9" height="38.6" fill="#00b0f0"/>
<rect x="423.9" y="1345.8" width="39.4" height="13.2" fill="#0050d0"/>
<rect x="491.3" y="1350.9" width="16.5" height="10.7" fill="#0050d0"/>
<rect x="444.3" y="1378.8" width="28" height="5.6" fill="#60f0f0"/>
<rect x="431.5" y="1363.6" width="15.3" height="15.3" fill="#00d0f0"/>
<rect x="496.4" y="1378.8" width="11.4" height="5.6" fill="#f0f0f0"/>
<rect x="418.8" y="1372.5" width="19.1" height="8.9" fill="#f0f0f0"/>
<rect x="507.8" y="1350.9" width="43.2" height="33.1" fill="#d0d0d0"/>
<rect x="224.3" y="1408.1" width="39.4" height="7.6" fill="#00d0f0"/>
<rect x="238.3" y="1391.5" width="42" height="16.5" fill="#00d0f0"/>
<rect x="245.9" y="1385.2" width="40.7" height="6.4" fill="#00d0f0"/>
<rect x="245.9" y="1385.2" width="16.5" height="5.1" fill="#0078f0"/>
<rect x="262.5" y="1378.3" width="8.9" height="4.8" fill="#0078f0"/>
<rect x="271.4" y="1378.3" width="8.9" height="4.8" fill="#00d0f0"/>
<rect x="296.8" y="1378.3" width="15.3" height="4.8" fill="#00d0f0"/>
<rect x="514.2" y="1366.6" width="4.3" height="4.6" fill="#60f0f0"/>
<rect x="520.5" y="1376.3" width="4.6" height="4.6" fill="#60f0f0"/>
<rect x="530.7" y="1376.3" width="4.6" height="4.6" fill="#60f0f0"/>
<rect x="540" y="1350.9" width="38.1" height="33.6" fill="#d0d0d0"/>
<rect x="578.1" y="1350.9" width="134.8" height="33.6" fill="#00d0f0"/>
<rect x="595.9" y="1363.6" width="71.2" height="8.1" fill="#0010a0"/>
<rect x="641.7" y="1371.2" width="10.2" height="5.6" fill="#0010a0"/>
<rect x="682.4" y="1365.1" width="10.2" height="5.1" fill="#0010a0"/>
<rect x="585.8" y="1366.1" width="10.2" height="5.6" fill="#0078f0"/>
<rect x="631.5" y="1371.2" width="10.2" height="5.6" fill="#0078f0"/>
<rect x="667.1" y="1366.1" width="15.3" height="5.6" fill="#0078f0"/>
<rect x="651.9" y="1371.2" width="7.6" height="5.1" fill="#0078f0"/>
<rect x="692.6" y="1365.1" width="20.3" height="11.2" fill="#00b0f0"/>
<rect x="710.4" y="1350.9" width="28" height="19.6" fill="#d0d0d0"/>
<rect x="697.6" y="1376.3" width="30.5" height="8.1" fill="#60f0f0"/>
<rect x="715.4" y="1371.2" width="10.2" height="12" fill="#f0f0f0"/>
<rect x="670.9" y="1378.3" width="10.2" height="4.8" fill="#f0f0f0"/>
<rect x="728.2" y="1350.9" width="40.7" height="33.6" fill="#00d0f0"/>
<rect x="763.7" y="1366.1" width="15.8" height="18.3" fill="#60f0f0"/>
<rect x="770.1" y="1377.5" width="8.9" height="6.9" fill="#f0f0f0"/>
<rect x="779" y="1350.9" width="40.7" height="28.5" fill="#00d0f0"/>
<rect x="815.9" y="1363.6" width="6.9" height="6.9" fill="#d0d0d0"/>
<rect x="819.7" y="1370.7" width="25.4" height="13.7" fill="#60f0f0"/>
<rect x="819.7" y="1350.9" width="30.5" height="20.3" fill="#00d0f0"/>
<rect x="845.1" y="1370.7" width="35.6" height="13.7" fill="#f0f0f0"/>
<rect x="870.5" y="1370.7" width="10.2" height="6.1" fill="#d0d0d0"/>
<rect x="880.7" y="1350.9" width="20.3" height="33.6" fill="#00d0f0"/>
<rect x="880.7" y="1371.2" width="6.4" height="13.2" fill="#60f0f0"/>
<rect x="543.8" y="1377" width="6.4" height="4.3" fill="#60f0f0"/>
<rect x="561.6" y="1377" width="6.4" height="4.3" fill="#60f0f0"/>
<rect x="740" y="1350.9" width="25.4" height="33.6" fill="#00d0f0"/>
<rect x="765.4" y="1364.8" width="15.8" height="19.6" fill="#60f0f0"/>
<rect x="780.7" y="1350.9" width="47" height="25.9" fill="#00d0f0"/>
<rect x="826.4" y="1370.7" width="10.7" height="7.4" fill="#60f0f0"/>
<rect x="826.4" y="1376.3" width="56.4" height="8.1" fill="#f0f0f0"/>
<rect x="836.6" y="1370.7" width="46.3" height="6.1" fill="#f0f0f0"/>
<rect x="813.7" y="1363.6" width="10.7" height="6.9" fill="#d0d0d0"/>
<rect x="872.2" y="1370.7" width="8.1" height="6.1" fill="#d0d0d0"/>
<rect x="882.4" y="1350.9" width="188.2" height="56.4" fill="#00d0f0"/>
<rect x="886.2" y="1386.4" width="34.3" height="12" fill="#60f0f0"/>
<rect x="882.4" y="1370.7" width="10.2" height="15.8" fill="#60f0f0"/>
<rect x="968.8" y="1391.5" width="20.8" height="10.2" fill="#60f0f0"/>
<rect x="920.5" y="1397.9" width="67.4" height="10.7" fill="#60f0f0"/>
<rect x="898.9" y="1377" width="47" height="6.1" fill="#00b0f0"/>
<rect x="989.2" y="1384.7" width="19.6" height="6.1" fill="#0078f0"/>
<rect x="914.2" y="1370.7" width="17" height="7.4" fill="#0060e0"/>
<rect x="981.5" y="1375.8" width="89" height="8.1" fill="#d0d0d0"/>
<rect x="1052.7" y="1383.4" width="17.8" height="15" fill="#d0d0d0"/>
<rect x="898.9" y="1372" width="14" height="5.6" fill="#d0d0d0"/>
<rect x="945.9" y="1376.3" width="8.9" height="6.9" fill="#d0d0d0"/>
<rect x="350.8" y="1368.9" width="42.4" height="14.4" fill="#00d0f0"/>
<rect x="448.3" y="1368.9" width="60.4" height="14.4" fill="#00d0f0"/>
<rect x="393.2" y="1361.5" width="38.1" height="15.9" fill="#60f0f0"/>
<rect x="435.6" y="1372.1" width="13.8" height="5.3" fill="#60f0f0"/>
<rect x="321.2" y="1368.9" width="28.6" height="14.4" fill="#f0f0f0"/>
<rect x="389" y="1378.4" width="72" height="4.9" fill="#f0f0f0"/>
<rect x="418.6" y="1371" width="19.1" height="7.4" fill="#f0f0f0"/>
<rect x="494.9" y="1378.4" width="16.9" height="4.9" fill="#f0f0f0"/>
<rect x="399.6" y="1360" width="10.6" height="4.7" fill="#d0d0d0"/>
<rect x="405.9" y="1373.1" width="12.7" height="3.6" fill="#d0d0d0"/>
<path d="M207.3,1617.8 207.3,1425.9 271.4,1425.9 271.4,1415.7 287.9,1415.7 287.9,1399.2 315.9,1399.2 315.9,1386.4 334.9,1386.4 334.9,1384.4 544.9,1384.4 545.1,1384.4 592.1,1384.4 592.1,1391.5 599.8,1391.5 599.8,1397.9 651.9,1397.9 651.9,1386.4 728.2,1386.4 728.2,1391.5 735.8,1391.5 735.8,1397.9 761.2,1397.9 761.2,1386.4 884.5,1386.4 884.5,1397.9 894.9,1397.9 895.1,1397.9 920.5,1397.9 920.5,1408.1 986.6,1408.1 986.6,1415.7 1070.5,1415.7 1070.5,1617.8Z" fill="#f0f0f0"/>
<path d="M207.3,1617.8 207.3,1446.2 263.7,1446.2 263.7,1436 285.3,1436 285.3,1425.9 324.8,1425.9 324.8,1399.2 327.3,1399.2 327.3,1391.5 334.9,1391.5 334.9,1386.4 350.2,1386.4 350.2,1391.5 357.8,1391.5 357.8,1399.2 388.3,1399.2 388.3,1391.5 415,1391.5 415,1386.4 446.8,1386.4 446.8,1391.5 490,1391.5 490,1389 507.8,1389 507.8,1386.4 544.9,1386.4 545.1,1386.4 574.3,1386.4 574.3,1391.5 592.1,1391.5 592.1,1399.2 599.8,1399.2 599.8,1408.1 644.2,1408.1 644.2,1399.2 673.5,1399.2 673.5,1391.5 681.1,1391.5 681.1,1399.2 712.9,1399.2 712.9,1408.1 723.1,1408.1 723.1,1415.7 738.3,1415.7 738.3,1425.9 765,1425.9 765,1415.7 781.5,1415.7 781.5,1408.1 814.6,1408.1 814.6,1399.2 836.2,1399.2 836.2,1391.5 854,1391.5 854,1386.4 869.3,1386.4 869.3,1399.2 865.5,1399.2 865.5,1425.9 894.9,1425.9 895.1,1425.9 1001.9,1425.9 1001.9,1436 1070.5,1436 1070.5,1617.8Z" fill="#f0e800"/>
<path d="M207.3,1617.8 207.3,1457.6 276.4,1457.6 276.4,1446.2 331.1,1446.2 331.1,1425.9 338.7,1425.9 338.7,1415.7 342.6,1415.7 342.6,1408.1 388.3,1408.1 388.3,1399.2 415,1399.2 415,1389 446.8,1389 446.8,1399.2 484.9,1399.2 484.9,1394.1 490,1394.1 490,1389 507.8,1389 507.8,1386.4 544.9,1386.4 545.1,1399.2 574.3,1399.2 574.3,1408.1 589.6,1408.1 589.6,1415.7 644.2,1415.7 644.2,1408.1 692.6,1408.1 692.6,1415.7 695.1,1415.7 695.1,1425.9 729.4,1425.9 729.4,1436 749.8,1436 749.8,1446.2 894.9,1446.2 895.1,1446.2 1070.5,1446.2 1070.5,1617.8Z" fill="#f0c000"/>
<path d="M207.3,1617.8 207.3,1481.8 251,1481.8 251,1469.1 322.2,1469.1 322.2,1457.6 338.7,1457.6 338.7,1446.2 345.1,1446.2 345.1,1436 365.4,1436 365.4,1425.9 380.7,1425.9 380.7,1415.7 389.6,1415.7 389.6,1408.1 415,1408.1 415,1399.2 444.3,1399.2 444.3,1408.1 484.9,1408.1 484.9,1399.2 490,1399.2 490,1391.5 528.2,1391.5 528.2,1399.2 544.9,1399.2 545.1,1399.2 574.3,1399.2 574.3,1408.1 589.6,1408.1 589.6,1415.7 608.6,1415.7 608.6,1425.9 637.9,1425.9 637.9,1436 674.8,1436 674.8,1446.2 702.7,1446.2 702.7,1457.6 749.8,1457.6 749.8,1469.1 894.9,1469.1 895.1,1469.1 1070.5,1469.1 1070.5,1617.8Z" fill="#f0a800"/>
<path d="M207.3,1617.8 207.3,1507.2 300.6,1507.2 300.6,1494.5 315.9,1494.5 315.9,1481.8 324.8,1481.8 324.8,1469.1 341.3,1469.1 341.3,1457.6 348.9,1457.6 348.9,1446.2 365.4,1446.2 365.4,1436 397.2,1436 397.2,1425.9 425.2,1425.9 425.2,1415.7 510.4,1415.7 510.4,1408.1 544.9,1408.1 545.1,1408.1 559.1,1408.1 559.1,1415.7 565.4,1415.7 565.4,1425.9 590.9,1425.9 590.9,1436 637.9,1436 637.9,1446.2 673.5,1446.2 673.5,1457.6 700.2,1457.6 700.2,1469.1 725.6,1469.1 725.6,1481.8 751,1481.8 751,1494.5 770.1,1494.5 770.1,1507.2 894.9,1507.2 895.1,1507.2 1070.5,1507.2 1070.5,1617.8Z" fill="#f06000"/>
<path d="M207.3,1617.8 207.3,1554.3 259.9,1554.3 259.9,1537.7 290.4,1537.7 290.4,1522.5 303.1,1522.5 303.1,1507.2 320.9,1507.2 320.9,1494.5 337.5,1494.5 337.5,1481.8 355.3,1481.8 355.3,1469.1 373.1,1469.1 373.1,1457.6 402.3,1457.6 402.3,1446.2 437.9,1446.2 437.9,1436 502.7,1436 502.7,1425.9 543.4,1425.9 543.4,1436 544.9,1436 545.1,1436 569.2,1436 569.2,1446.2 598.5,1446.2 598.5,1457.6 629,1457.6 629,1469.1 668.4,1469.1 668.4,1481.8 700.2,1481.8 700.2,1494.5 728.2,1494.5 728.2,1507.2 749.8,1507.2 749.8,1522.5 776.5,1522.5 776.5,1537.7 807,1537.7 807,1554.3 894.9,1554.3 895.1,1554.3 1070.5,1554.3 1070.5,1617.8Z" fill="#e00000"/>
<path d="M207.3,1617.8 207.3,1586 233.2,1586 233.2,1569.5 280.3,1569.5 280.3,1554.3 289.2,1554.3 289.2,1537.7 315.9,1537.7 315.9,1522.5 340,1522.5 340,1507.2 356.5,1507.2 356.5,1494.5 384.5,1494.5 384.5,1481.8 404.8,1481.8 404.8,1469.1 458.2,1469.1 458.2,1457.6 544.9,1457.6 545.1,1457.6 546.4,1457.6 546.4,1469.1 585.8,1469.1 585.8,1481.8 620.1,1481.8 620.1,1494.5 667.1,1494.5 667.1,1507.2 695.1,1507.2 695.1,1522.5 728.2,1522.5 728.2,1537.7 763.7,1537.7 763.7,1554.3 785.4,1554.3 785.4,1569.5 821,1569.5 821,1586 850.2,1586 850.2,1602.6 894.9,1602.6 895.1,1602.6 1070.5,1602.6 1070.5,1617.8Z" fill="#a00000"/>
<path d="M207.3,1345.8 329.8,1345.8 329.8,1383.9 245.9,1383.9 245.9,1391.5 238.3,1391.5 238.3,1408.1 224.3,1408.1 224.3,1415.7 207.3,1415.7Z" fill="#d0d0d0"/>
<path d="M207.3,1507.2 218,1507.2 218,1522.5 232,1522.5 232,1537.7 244.7,1537.7 244.7,1554.3 280.3,1554.3 280.3,1569.5 421.4,1569.5 421.4,1586 542.1,1586 542.1,1602.6 617.5,1602.6 617.5,1620.4 207.3,1620.4Z" fill="#d0d0d0"/>
<path d="M1055.3,1523.7 1070.5,1523.7 1070.5,1620.4 837.9,1620.4 837.9,1602.6 926.9,1602.6 926.9,1586 972.6,1586 972.6,1569.5 1003.2,1569.5 1003.2,1554.3 1036.2,1554.3 1036.2,1537.7 1055.3,1537.7Z" fill="#d0d0d0"/>
<path d="M540,1386.4 574.3,1386.4 574.3,1398.4 540,1398.4Z" fill="#d0d0d0"/>
<path d="M211.6,1512.3h6.6v7.4h-6.6zM211.6,1526.1h6.6v8.4h-6.6zM224.8,1526.1h6.6v8.4h-6.6zM211.6,1541.5h6.6v8.8h-6.6zM224.8,1541.5h6.6v8.8h-6.6zM238,1541.5h6.6v8.8h-6.6z" fill="#f06000"/>
<path d="M211.6,1557.4h6.6v8.8h-6.6zM224.8,1557.4h6.6v8.8h-6.6zM238,1557.4h6.6v8.8h-6.6zM251.2,1557.4h6.6v8.8h-6.6zM264.4,1557.4h6.6v8.8h-6.6zM211.6,1573.5h6.6v9.1h-6.6zM224.8,1573.5h6.6v9.1h-6.6z" fill="#e00000"/>
<path d="M238,1573.5h6.6v9.1h-6.6zM251.2,1573.5h6.6v9.1h-6.6zM264.4,1573.5h6.6v9.1h-6.6zM277.6,1573.5h6.6v9.1h-6.6zM290.8,1573.5h6.6v9.1h-6.6zM304,1573.5h6.6v9.1h-6.6zM317.2,1573.5h6.6v9.1h-6.6zM330.4,1573.5h6.6v9.1h-6.6zM343.6,1573.5h6.6v9.1h-6.6zM356.8,1573.5h6.6v9.1h-6.6zM370,1573.5h6.6v9.1h-6.6zM383.2,1573.5h6.6v9.1h-6.6zM396.4,1573.5h6.6v9.1h-6.6zM409.6,1573.5h6.6v9.1h-6.6zM211.6,1590h6.6v9.2h-6.6zM224.8,1590h6.6v9.2h-6.6zM238,1590h6.6v9.2h-6.6zM251.2,1590h6.6v9.2h-6.6zM264.4,1590h6.6v9.2h-6.6zM277.6,1590h6.6v9.2h-6.6zM290.8,1590h6.6v9.2h-6.6zM304,1590h6.6v9.2h-6.6zM317.2,1590h6.6v9.2h-6.6zM330.4,1590h6.6v9.2h-6.6zM343.6,1590h6.6v9.2h-6.6zM356.8,1590h6.6v9.2h-6.6zM370,1590h6.6v9.2h-6.6zM383.2,1590h6.6v9.2h-6.6zM396.4,1590h6.6v9.2h-6.6zM409.6,1590h6.6v9.2h-6.6zM422.8,1590h6.6v9.2h-6.6zM436,1590h6.6v9.2h-6.6zM449.2,1590h6.6v9.2h-6.6zM462.4,1590h6.6v9.2h-6.6zM475.6,1590h6.6v9.2h-6.6zM488.8,1590h6.6v9.2h-6.6zM502,1590h6.6v9.2h-6.6zM515.2,1590h6.6v9.2h-6.6zM528.4,1590h6.6v9.2h-6.6zM211.6,1606.3h6.6v8.1h-6.6zM224.8,1606.3h6.6v8.1h-6.6zM238,1606.3h6.6v8.1h-6.6zM251.2,1606.3h6.6v8.1h-6.6zM264.4,1606.3h6.6v8.1h-6.6zM277.6,1606.3h6.6v8.1h-6.6zM290.8,1606.3h6.6v8.1h-6.6zM304,1606.3h6.6v8.1h-6.6zM317.2,1606.3h6.6v8.1h-6.6zM330.4,1606.3h6.6v8.1h-6.6zM343.6,1606.3h6.6v8.1h-6.6zM356.8,1606.3h6.6v8.1h-6.6zM370,1606.3h6.6v8.1h-6.6zM383.2,1606.3h6.6v8.1h-6.6zM396.4,1606.3h6.6v8.1h-6.6zM409.6,1606.3h6.6v8.1h-6.6zM422.8,1606.3h6.6v8.1h-6.6zM436,1606.3h6.6v8.1h-6.6zM449.2,1606.3h6.6v8.1h-6.6zM462.4,1606.3h6.6v8.1h-6.6zM475.6,1606.3h6.6v8.1h-6.6zM488.8,1606.3h6.6v8.1h-6.6zM502,1606.3h6.6v8.1h-6.6zM515.2,1606.3h6.6v8.1h-6.6zM528.4,1606.3h6.6v8.1h-6.6zM541.6,1606.3h6.6v8.1h-6.6zM554.8,1606.3h6.6v8.1h-6.6zM568,1606.3h6.6v8.1h-6.6zM581.2,1606.3h6.6v8.1h-6.6zM594.4,1606.3h6.6v8.1h-6.6zM607.6,1606.3h6.6v8.1h-6.6z" fill="#a00000"/>
<path d="M1060.4,1526.1h6.8v8.4h-6.8zM1033.2,1541.5h6.8v8.8h-6.8zM1046.8,1541.5h6.8v8.8h-6.8zM1060.4,1541.5h6.8v8.8h-6.8z" fill="#f06000"/>
<path d="M1006,1557.4h6.8v8.8h-6.8zM1019.6,1557.4h6.8v8.8h-6.8zM1033.2,1557.4h6.8v8.8h-6.8zM1046.8,1557.4h6.8v8.8h-6.8zM1060.4,1557.4h6.8v8.8h-6.8zM978.8,1573.5h6.8v9.1h-6.8zM992.4,1573.5h6.8v9.1h-6.8zM1006,1573.5h6.8v9.1h-6.8zM1019.6,1573.5h6.8v9.1h-6.8zM1033.2,1573.5h6.8v9.1h-6.8zM1046.8,1573.5h6.8v9.1h-6.8zM1060.4,1573.5h6.8v9.1h-6.8zM924.4,1590h6.8v9.2h-6.8zM938,1590h6.8v9.2h-6.8zM951.6,1590h6.8v9.2h-6.8zM965.2,1590h6.8v9.2h-6.8zM978.8,1590h6.8v9.2h-6.8zM992.4,1590h6.8v9.2h-6.8zM1006,1590h6.8v9.2h-6.8zM1019.6,1590h6.8v9.2h-6.8zM1033.2,1590h6.8v9.2h-6.8zM1046.8,1590h6.8v9.2h-6.8zM1060.4,1590h6.8v9.2h-6.8z" fill="#e00000"/>
<path d="M842.8,1606.3h6.8v8.1h-6.8zM856.4,1606.3h6.8v8.1h-6.8zM870,1606.3h6.8v8.1h-6.8zM883.6,1606.3h6.8v8.1h-6.8zM897.2,1606.3h6.8v8.1h-6.8zM910.8,1606.3h6.8v8.1h-6.8zM924.4,1606.3h6.8v8.1h-6.8zM938,1606.3h6.8v8.1h-6.8zM951.6,1606.3h6.8v8.1h-6.8zM965.2,1606.3h6.8v8.1h-6.8zM978.8,1606.3h6.8v8.1h-6.8zM992.4,1606.3h6.8v8.1h-6.8zM1006,1606.3h6.8v8.1h-6.8zM1019.6,1606.3h6.8v8.1h-6.8zM1033.2,1606.3h6.8v8.1h-6.8zM1046.8,1606.3h6.8v8.1h-6.8zM1060.4,1606.3h6.8v8.1h-6.8z" fill="#a00000"/>
<rect x="211.6" y="1397.9" width="6.4" height="6.4" fill="#60f0f0"/>
<rect x="225.6" y="1397.9" width="5.1" height="6.4" fill="#60f0f0"/>
<rect x="215.4" y="1383.9" width="7.6" height="5.1" fill="#60f0f0"/>
<rect x="237" y="1385.2" width="6.4" height="3.8" fill="#60f0f0"/>
<rect x="547.6" y="1387.2" width="5.1" height="5.1" fill="#f0f0f0"/>
<rect x="558.3" y="1387.2" width="5.1" height="5.1" fill="#f0f0f0"/>
<rect x="568.5" y="1387.2" width="5.1" height="5.1" fill="#f0f0f0"/>
<path d="M300,1335 300,1374.2 312.7,1374.2 312.7,1371 327.5,1371 327.5,1368.9 338.1,1368.9 338.1,1365.7 348.7,1365.7 348.7,1363.6 361.4,1363.6 361.4,1360.4 380.5,1360.4 380.5,1357.9 396.4,1357.9 396.4,1361.5 410.2,1361.5 410.2,1363.6 425,1363.6 425,1355.1 463.1,1355.1 463.1,1357.2 507.6,1357.2 507.6,1364.7 518.2,1364.7 518.2,1366.8 600,1366.8 600,1335Z" fill="#ffffff"/>
<path d="M425,1355.1 463.1,1355.1 463.1,1357.2 425,1357.2Z" fill="#0078f0"/>
<line x1="617.5" y1="1616.6" x2="838" y2="1616.6" stroke="#e8e8e8" stroke-width="1.4" stroke-dasharray="6 4"/>
</g>
<line x1="207.3" y1="1383.9" x2="1070.5" y2="1383.9" stroke="#30e0e8" stroke-width="1.6"/>
<polyline points="207.3,1368.6 225.6,1368.6 273.9,1373.7 296.8,1373.7 329.8,1367.4 379.4,1356.4 401,1357.2 411.2,1361 463.3,1349.6 507.8,1362.3 540.9,1367 575.6,1363.6 687.5,1362.3 720.5,1359 784,1359.8 819.7,1362.3 844.2,1362.3 928.2,1370 1004.4,1375.5 1050.2,1375.5 1054,1373.7 1070.5,1373.7" fill="none" stroke="#30e030" stroke-width="1.6"/>
<line x1="207.3" y1="1317.8" x2="207.3" y2="1618.8" stroke="#303030" stroke-width="2"/>
<line x1="1070.5" y1="1317.8" x2="1070.5" y2="1618.8" stroke="#303030" stroke-width="2"/>
<line x1="206.3" y1="1617.8" x2="1071.5" y2="1617.8" stroke="#303030" stroke-width="2"/>
<line x1="207.3" y1="1328.5" x2="218.3" y2="1328.5" stroke="#303030" stroke-width="1.6"/>
<line x1="1059.5" y1="1328.5" x2="1070.5" y2="1328.5" stroke="#303030" stroke-width="1.6"/>
<line x1="207.3" y1="1383.9" x2="218.3" y2="1383.9" stroke="#303030" stroke-width="1.6"/>
<line x1="1059.5" y1="1383.9" x2="1070.5" y2="1383.9" stroke="#303030" stroke-width="1.6"/>
<line x1="207.3" y1="1438.6" x2="218.3" y2="1438.6" stroke="#303030" stroke-width="1.6"/>
<line x1="1059.5" y1="1438.6" x2="1070.5" y2="1438.6" stroke="#303030" stroke-width="1.6"/>
<line x1="207.3" y1="1492.5" x2="218.3" y2="1492.5" stroke="#303030" stroke-width="1.6"/>
<line x1="1059.5" y1="1492.5" x2="1070.5" y2="1492.5" stroke="#303030" stroke-width="1.6"/>
<line x1="207.3" y1="1547" x2="218.3" y2="1547" stroke="#303030" stroke-width="1.6"/>
<line x1="1059.5" y1="1547" x2="1070.5" y2="1547" stroke="#303030" stroke-width="1.6"/>
<line x1="207.3" y1="1602.6" x2="218.3" y2="1602.6" stroke="#303030" stroke-width="1.6"/>
<line x1="1059.5" y1="1602.6" x2="1070.5" y2="1602.6" stroke="#303030" stroke-width="1.6"/>
<clipPath id="coastclip"><path d="M1103.9,74.6 1093.3,66.2 1082.7,69.3 1072.1,63 1057.3,46 1053,40.7 1042.5,32.9 1036,37.5 1028.7,34.4 1023.4,41.8 1018,46 1019.2,50.3 1002.2,59.8 1001.1,57 985.3,62.5 975.7,70.4 968.3,82 951.4,91.6 949.2,86.3 940.8,90.1 942.9,101.1 935.5,109.6 930.2,120.2 922.8,122.3 923.8,128.6 916.4,140.3 909,148.8 896.3,156.2 892,155.1 884.6,166.8 883.6,172.1 874,177.4 870.8,188 870.8,200.7 873,213.4 869.2,230.3 867.7,230 875,240.6 887.8,255.4 894.2,272.4 904.7,283 913.2,295.7 912.2,312.6 921.7,325.3 925.9,344.4 932.3,357.1 934.4,374 938.6,386.8 935.5,388.9 941.8,399.5 940.8,412.2 949.2,422.8 955.6,435.5 957.2,440 972,450.6 981.6,465.4 985.8,480.3 993.2,495.1 1003.8,514.2 1010.2,531.1 1009.1,543.8 1004.9,555.5 1005.9,562.9 1014.4,569.2 1025,575.6 1032.4,586.2 1037.7,601 1048.3,609.5 1052.5,622.2 1061,637 1069.5,649.7 1075.8,658.2 1078.1,662 1084.5,681.2 1087.7,698.1 1082.4,708.7 1090.8,715.1 1091.9,744.7 1089.8,755.3 1090.8,770.2 1097.2,785 1101.4,795.6 1103.6,808.3 1109.9,823.1 1120.5,835.8 1124.7,842.2 1135.3,846.4 1145.9,851.7 1150.2,856 1155.5,851.7 1162.9,846.4 1167.1,838 1169.2,829.5 1177.7,816.8 1188.3,791.4 1192.5,774.4 1203.1,763.8 1211.6,753.2 1220.1,736.3 1226.4,725.7 1232.8,721.4 1239.2,708.7 1245.5,691.8 1250,680 1251.7,675 1256.7,668.3 1263.3,661.7 1273.3,653.3 1280,646.7 1286.7,636.7 1295,626.7 1300,620.8 1299.2,613.3 1300,606.7 1300.8,595 1306.7,588.3 1308.3,578.3 1310,566.7 1311.7,553.3 1308.3,543.3 1311.7,535 1315,528.3 1320,518.3 1319.2,510 1315,503.3 1313.3,493.3 1310,481.7 1308.3,473.3 1310.8,461.7 1306.7,456.7 1305.6,454.6 1300.3,446.1 1302.4,435.5 1291.8,429.2 1289.7,420.7 1291.8,412.2 1288.7,403.7 1296.1,395.3 1305.6,382.5 1306.7,369.8 1310.9,359.2 1319.4,348.6 1332.1,335.9 1346.9,325.3 1355.4,316.9 1357.5,304.2 1367.1,290.4 1372.4,281.9 1371.3,274.5 1362.8,270.3 1361.8,257.5 1355.4,249.1 1351.2,239.5 1345.8,240 1341.5,234.6 1337.3,224 1328.8,209.2 1324.6,200.7 1322.5,190.1 1318.2,181.6 1314,166.8 1314,149.8 1309.7,143.5 1306.6,132.9 1299.2,124.4 1293.9,113.8 1294.9,105.3 1286.4,103.2 1288.6,94.7 1284.3,88.4 1282.2,75.7 1275.8,73.6 1264.2,70.4 1263.1,66.1 1252.5,69.3 1248.3,66.1 1244.1,68.3 1227.1,67.2 1214.4,73.6 1199.6,77.8 1184.7,79.9 1163.6,83.1 1144.5,84.2 1131.8,78.9 1114.8,79.9Z"/></clipPath>
<g clip-path="url(#coastclip)" shape-rendering="crispEdges">
<rect x="866.7" y="31.9" width="506.7" height="825.1" fill="#60f0f0"/>
<path d="M1035.5,31.9h10.9v5.5h-10.9zM1030,37.4h21.8v5.5h-21.8zM1019.1,42.8h38.1v5.5h-38.1zM1013.7,48.2h5.4v5.5h-5.4zM1030,48.2h10.9v5.5h-10.9zM1051.8,48.2h10.9v5.5h-10.9zM1002.8,53.7h16.4v5.5h-16.4zM1030,53.7h10.9v5.5h-10.9zM1051.8,53.7h16.4v5.5h-16.4zM991.9,59.1h21.8v5.5h-21.8zM1030,59.1h10.9v5.5h-10.9zM1051.8,59.1h21.8v5.5h-21.8zM981,64.6h32.7v5.5h-32.7zM1030,64.6h65.4v5.5h-65.4zM1215.3,64.6h38.2v5.5h-38.2zM970.1,70.1h43.6v5.5h-43.6zM1030,70.1h65.4v5.5h-65.4zM1199,70.1h27.2v5.5h-27.2zM1253.5,70.1h21.8v5.5h-21.8zM964.6,75.5h43.6v5.5h-43.6zM1041,75.5h54.5v5.5h-54.5zM1100.9,75.5h43.6v5.5h-43.6zM1188.1,75.5h16.4v5.5h-16.4zM1280.8,75.5h5.5v5.5h-5.5zM959.2,81h54.5v5.5h-54.5zM1057.3,81h38.2v5.5h-38.2zM1100.9,81h92.6v5.5h-92.6zM953.8,86.4h10.9v5.5h-10.9zM975.5,86.4h43.6v5.5h-43.6zM1062.8,86.4h32.7v5.5h-32.7zM1100.9,86.4h10.9v5.5h-10.9zM1133.6,86.4h60v5.5h-60zM1280.8,86.4h5.5v5.5h-5.5zM948.3,91.9h16.4v5.5h-16.4zM981,91.9h43.6v5.5h-43.6zM1062.8,91.9h32.7v5.5h-32.7zM1100.9,91.9h10.9v5.5h-10.9zM1144.5,91.9h5.5v5.5h-5.5zM1182.7,91.9h10.9v5.5h-10.9zM1275.3,91.9h10.9v5.5h-10.9zM942.9,97.3h87.2v5.5h-87.2zM1057.3,97.3h38.2v5.5h-38.2zM1100.9,97.3h10.9v5.5h-10.9zM1139,97.3h5.5v5.5h-5.5zM1188.1,97.3h10.9v5.5h-10.9zM1280.8,97.3h5.5v5.5h-5.5zM937.4,102.8h10.9v5.5h-10.9zM953.8,102.8h141.7v5.5h-141.7zM1100.9,102.8h10.9v5.5h-10.9zM1133.6,102.8h5.5v5.5h-5.5zM1199,102.8h5.5v5.5h-5.5zM931.9,108.2h5.5v5.5h-5.5zM953.8,108.2h141.7v5.5h-141.7zM1100.9,108.2h16.3v5.5h-16.3zM1122.7,108.2h10.9v5.5h-10.9zM1204.5,108.2h5.5v5.5h-5.5zM931.9,113.7h5.5v5.5h-5.5zM953.8,113.7h65.4v5.5h-65.4zM1057.3,113.7h27.2v5.5h-27.2zM1100.9,113.7h27.2v5.5h-27.2zM926.5,119.1h16.4v5.5h-16.4zM953.8,119.1h38.1v5.5h-38.1zM1100.9,119.1h21.8v5.5h-21.8zM1209.9,119.1h5.4v5.5h-5.4zM1275.3,119.1h21.8v5.5h-21.8zM921,124.5h65.4v5.5h-65.4zM1215.3,124.5h5.5v5.5h-5.5zM1275.3,124.5h10.9v5.5h-10.9zM1297.1,124.5h5.5v5.5h-5.5zM921,130h65.4v5.5h-65.4zM1220.8,130h5.5v5.5h-5.5zM1237.2,130h5.4v5.5h-5.4zM1275.3,130h5.5v5.5h-5.5zM915.6,135.4h70.9v5.5h-70.9zM1226.2,135.4h10.9v5.5h-10.9zM1275.3,135.4h5.5v5.5h-5.5zM910.1,140.9h16.4v5.5h-16.4zM942.9,140.9h43.6v5.5h-43.6zM904.7,146.4h87.2v5.5h-87.2zM921,151.8h70.9v5.5h-70.9zM1297.1,151.8h5.5v5.5h-5.5zM926.5,157.2h60v5.5h-60zM926.5,162.7h60v5.5h-60zM926.5,168.2h60v5.5h-60zM915.6,173.6h65.4v5.5h-65.4zM910.1,179.1h65.4v5.5h-65.4zM1280.8,179.1h21.8v5.5h-21.8zM910.1,184.5h60v5.5h-60zM1280.8,184.5h21.8v5.5h-21.8zM910.1,190h5.5v5.5h-5.5zM1280.8,190h27.2v5.5h-27.2zM910.1,195.4h5.5v5.5h-5.5zM1286.2,195.4h27.2v5.5h-27.2zM910.1,200.8h10.9v5.5h-10.9zM1297.1,200.8h21.8v5.5h-21.8zM910.1,206.3h21.8v5.5h-21.8zM1302.5,206.3h21.8v5.5h-21.8zM910.1,211.8h27.2v5.5h-27.2zM1308,211.8h10.9v5.5h-10.9zM915.6,217.2h21.8v5.5h-21.8zM1308,217.2h5.5v5.5h-5.5zM910.1,222.7h27.2v5.5h-27.2zM910.1,228.1h21.8v5.5h-21.8zM910.1,233.6h16.4v5.5h-16.4zM926.5,266.2h27.2v5.5h-27.2zM915.6,271.7h43.6v5.5h-43.6zM915.6,277.2h49v5.5h-49zM1340.7,282.6h10.9v5.5h-10.9zM1329.8,288.1h32.7v5.5h-32.7zM1318.9,293.5h43.6v5.5h-43.6zM1318.9,298.9h38.1v5.5h-38.1zM937.4,304.4h5.5v5.5h-5.5zM1318.9,304.4h16.3v5.5h-16.3zM910.1,309.9h32.7v5.5h-32.7zM1313.5,309.9h21.8v5.5h-21.8zM915.6,315.3h27.2v5.5h-27.2zM921,320.8h21.8v5.5h-21.8zM1308,320.8h5.5v5.5h-5.5zM921,326.2h21.8v5.5h-21.8zM1302.5,326.2h10.9v5.5h-10.9zM921,331.7h21.8v5.5h-21.8zM1308,331.7h16.3v5.5h-16.3zM921,337.1h21.8v5.5h-21.8zM926.5,342.6h16.4v5.5h-16.4zM931.9,348h5.5v5.5h-5.5zM981,364.4h5.5v5.5h-5.5zM981,369.8h10.9v5.5h-10.9zM981,375.2h10.9v5.5h-10.9zM981,380.7h10.9v5.5h-10.9zM970.1,386.2h27.2v5.5h-27.2zM1242.6,386.2h27.2v5.5h-27.2zM964.6,391.6h38.1v5.5h-38.1zM1237.2,391.6h32.7v5.5h-32.7zM959.2,397.1h43.6v5.5h-43.6zM1237.2,397.1h38.1v5.5h-38.1zM959.2,402.5h49v5.5h-49zM1237.2,402.5h16.3v5.5h-16.3zM1269.8,402.5h10.9v5.5h-10.9zM997.4,407.9h16.4v5.5h-16.4zM1237.2,407.9h16.3v5.5h-16.3zM1275.3,407.9h5.5v5.5h-5.5zM1008.2,413.4h16.3v5.5h-16.3zM1237.2,413.4h16.3v5.5h-16.3zM1269.8,413.4h10.9v5.5h-10.9zM1242.6,418.9h38.2v5.5h-38.2zM1253.5,424.3h21.8v5.5h-21.8zM1259,429.8h16.3v5.5h-16.3zM1019.1,435.2h5.4v5.5h-5.4zM1008.2,440.7h32.7v5.5h-32.7zM1008.2,446.1h43.6v5.5h-43.6zM1008.2,451.6h49v5.5h-49zM1008.2,457h54.5v5.5h-54.5zM1046.4,462.4h10.9v5.5h-10.9zM1264.4,467.9h10.9v5.5h-10.9zM1259,473.4h21.8v5.5h-21.8zM1024.6,495.2h16.4v5.5h-16.4zM1079.1,495.2h10.9v5.5h-10.9zM1024.6,500.6h27.2v5.5h-27.2zM1073.7,500.6h32.7v5.5h-32.7zM1024.6,506.1h32.7v5.5h-32.7zM1073.7,506.1h38.1v5.5h-38.1zM1024.6,511.5h32.7v5.5h-32.7zM1079.1,511.5h38.2v5.5h-38.2zM1030,517h27.2v5.5h-27.2zM1079.1,517h43.6v5.5h-43.6zM1035.5,522.4h10.9v5.5h-10.9zM1079.1,522.4h43.6v5.5h-43.6zM1073.7,527.9h43.6v5.5h-43.6zM1068.2,533.3h43.6v5.5h-43.6zM1062.8,538.8h49v5.5h-49zM1269.8,538.8h27.2v5.5h-27.2zM1062.8,544.2h38.2v5.5h-38.2zM1253.5,544.2h54.5v5.5h-54.5zM1062.8,549.6h38.2v5.5h-38.2zM1242.6,549.6h32.7v5.5h-32.7zM1286.2,549.6h21.8v5.5h-21.8zM1068.2,555.1h27.2v5.5h-27.2zM1242.6,555.1h16.4v5.5h-16.4zM1286.2,555.1h21.8v5.5h-21.8zM1073.7,560.6h21.8v5.5h-21.8zM1242.6,560.6h21.8v5.5h-21.8zM1280.8,560.6h16.3v5.5h-16.3zM1084.5,566h5.5v5.5h-5.5zM1242.6,566h54.5v5.5h-54.5zM1090,571.5h5.5v5.5h-5.5zM1242.6,571.5h16.4v5.5h-16.4zM1275.3,571.5h38.2v5.5h-38.2zM1079.1,576.9h16.4v5.5h-16.4zM1242.6,576.9h10.9v5.5h-10.9zM1280.8,576.9h5.5v5.5h-5.5zM1302.5,576.9h5.5v5.5h-5.5zM1073.7,582.4h21.8v5.5h-21.8zM1237.2,582.4h38.1v5.5h-38.1zM1068.2,587.8h27.2v5.5h-27.2zM1237.2,587.8h32.7v5.5h-32.7zM1062.8,593.2h32.7v5.5h-32.7zM1237.2,593.2h27.2v5.5h-27.2zM1062.8,598.7h27.2v5.5h-27.2zM1242.6,598.7h21.8v5.5h-21.8zM1062.8,604.1h27.2v5.5h-27.2zM1242.6,604.1h21.8v5.5h-21.8zM1073.7,609.6h16.3v5.5h-16.3zM1242.6,609.6h5.5v5.5h-5.5zM1286.2,609.6h10.9v5.5h-10.9zM1079.1,615.1h10.9v5.5h-10.9zM1275.3,615.1h16.4v5.5h-16.4zM1269.8,620.5h21.8v5.5h-21.8zM1297.1,620.5h5.5v5.5h-5.5zM1264.4,626h27.2v5.5h-27.2zM1264.4,631.4h21.8v5.5h-21.8zM1259,636.9h10.9v5.5h-10.9zM1275.3,636.9h10.9v5.5h-10.9zM1248,642.3h16.4v5.5h-16.4zM1237.2,647.8h10.9v5.5h-10.9zM1226.2,653.2h10.9v5.5h-10.9zM1220.8,658.6h16.4v5.5h-16.4zM1226.2,664.1h10.9v5.5h-10.9zM1226.2,669.6h10.9v5.5h-10.9zM1226.2,675h10.9v5.5h-10.9zM1100.9,680.5h10.9v5.5h-10.9zM1220.8,680.5h10.9v5.5h-10.9zM1100.9,685.9h10.9v5.5h-10.9zM1215.3,685.9h16.4v5.5h-16.4zM1100.9,691.4h10.9v5.5h-10.9zM1215.3,691.4h16.4v5.5h-16.4zM1215.3,696.8h16.4v5.5h-16.4zM1215.3,702.2h16.4v5.5h-16.4zM1215.3,707.7h21.8v5.5h-21.8zM1209.9,713.1h21.8v5.5h-21.8zM1209.9,718.6h21.8v5.5h-21.8zM1209.9,724.1h16.3v5.5h-16.3zM1193.5,729.5h27.2v5.5h-27.2zM1193.5,735h27.2v5.5h-27.2zM1193.5,740.4h21.8v5.5h-21.8zM1193.5,745.9h21.8v5.5h-21.8zM1193.5,751.3h16.4v5.5h-16.4zM1193.5,756.8h10.9v5.5h-10.9zM1177.2,762.2h10.9v5.5h-10.9zM1193.5,762.2h5.5v5.5h-5.5zM1177.2,767.6h10.9v5.5h-10.9zM1128.2,800.4h5.4v5.5h-5.4zM1128.2,805.8h5.4v5.5h-5.4z" fill="#00d0f0"/>
<path d="M1019.1,48.2h10.9v5.5h-10.9zM1019.1,53.7h10.9v5.5h-10.9zM1013.7,59.1h16.3v5.5h-16.3zM1013.7,64.6h16.3v5.5h-16.3zM1013.7,70.1h16.3v5.5h-16.3zM1226.2,70.1h27.2v5.5h-27.2zM1008.2,75.5h32.7v5.5h-32.7zM1204.5,75.5h70.8v5.5h-70.8zM1013.7,81h43.6v5.5h-43.6zM1193.5,81h60v5.5h-60zM1259,81h16.3v5.5h-16.3zM1019.1,86.4h43.6v5.5h-43.6zM1193.5,86.4h27.2v5.5h-27.2zM1248,86.4h32.7v5.5h-32.7zM1024.6,91.9h38.2v5.5h-38.2zM1193.5,91.9h27.2v5.5h-27.2zM1248,91.9h27.2v5.5h-27.2zM1030,97.3h27.2v5.5h-27.2zM1199,97.3h27.2v5.5h-27.2zM1237.2,97.3h38.1v5.5h-38.1zM1204.5,102.8h60v5.5h-60zM1209.9,108.2h49v5.5h-49zM1209.9,113.7h43.6v5.5h-43.6zM1215.3,119.1h32.7v5.5h-32.7zM1220.8,124.5h27.2v5.5h-27.2zM1226.2,130h10.9v5.5h-10.9zM1280.8,130h5.5v5.5h-5.5zM1280.8,135.4h16.3v5.5h-16.3zM1286.2,140.9h21.8v5.5h-21.8zM1291.7,146.4h16.3v5.5h-16.3zM893.8,151.8h27.2v5.5h-27.2zM888.4,157.2h38.1v5.5h-38.1zM882.9,162.7h43.6v5.5h-43.6zM877.4,168.2h49.1v5.5h-49.1zM872,173.6h43.6v5.5h-43.6zM872,179.1h38.1v5.5h-38.1zM872,184.5h38.1v5.5h-38.1zM872,190h38.1v5.5h-38.1zM872,195.4h38.1v5.5h-38.1zM872,200.8h38.1v5.5h-38.1zM872,206.3h38.1v5.5h-38.1zM872,211.8h38.1v5.5h-38.1zM872,217.2h43.6v5.5h-43.6zM866.7,222.7h43.4v5.5h-43.4zM866.7,228.1h43.4v5.5h-43.4zM866.7,233.6h43.4v5.5h-43.4zM1313.5,315.3h10.9v5.5h-10.9zM1313.5,320.8h10.9v5.5h-10.9zM1313.5,326.2h10.9v5.5h-10.9zM1253.5,402.5h16.3v5.5h-16.3zM1253.5,407.9h21.8v5.5h-21.8zM1253.5,413.4h16.3v5.5h-16.3zM1275.3,549.6h10.9v5.5h-10.9zM1259,555.1h27.2v5.5h-27.2zM1264.4,560.6h16.3v5.5h-16.3zM1286.2,576.9h16.3v5.5h-16.3zM1286.2,582.4h10.9v5.5h-10.9zM1269.8,636.9h5.5v5.5h-5.5zM1264.4,642.3h16.3v5.5h-16.3zM1248,647.8h27.2v5.5h-27.2zM1237.2,653.2h32.7v5.5h-32.7zM1237.2,658.6h27.2v5.5h-27.2zM1237.2,664.1h27.2v5.5h-27.2zM1237.2,669.6h5.4v5.5h-5.4zM1253.5,669.6h5.5v5.5h-5.5zM1237.2,675h5.4v5.5h-5.4zM1231.7,680.5h21.8v5.5h-21.8zM1231.7,685.9h16.3v5.5h-16.3zM1231.7,691.4h10.9v5.5h-10.9zM1231.7,696.8h10.9v5.5h-10.9zM1231.7,702.2h10.9v5.5h-10.9zM1171.8,800.4h5.5v5.5h-5.5zM1166.3,805.8h10.9v5.5h-10.9z" fill="#00b0f0"/>
<path d="M1275.3,70.1h5.5v5.5h-5.5zM1275.3,75.5h5.5v5.5h-5.5zM1275.3,81h10.9v5.5h-10.9zM1275.3,102.8h10.9v5.5h-10.9zM1297.1,130h10.9v5.5h-10.9zM1297.1,135.4h10.9v5.5h-10.9zM1302.5,162.7h10.9v5.5h-10.9zM1302.5,168.2h10.9v5.5h-10.9zM1237.2,206.3h10.9v5.5h-10.9zM1231.7,211.8h16.3v5.5h-16.3zM1226.2,217.2h21.8v5.5h-21.8zM1215.3,222.7h32.7v5.5h-32.7zM1215.3,228.1h27.2v5.5h-27.2zM1215.3,233.6h21.8v5.5h-21.8zM1231.7,239h5.5v5.5h-5.5zM1193.5,326.2h21.8v5.5h-21.8zM1193.5,331.7h21.8v5.5h-21.8zM1193.5,337.1h27.2v5.5h-27.2zM1182.7,342.6h5.4v5.5h-5.4zM1193.5,342.6h27.2v5.5h-27.2zM1182.7,348h5.4v5.5h-5.4zM1193.5,348h27.2v5.5h-27.2zM1182.7,353.4h5.4v5.5h-5.4zM1193.5,353.4h21.8v5.5h-21.8zM1193.5,358.9h21.8v5.5h-21.8zM1193.5,364.4h21.8v5.5h-21.8zM1291.7,364.4h10.9v5.5h-10.9zM1193.5,369.8h21.8v5.5h-21.8zM1297.1,369.8h5.5v5.5h-5.5zM1193.5,375.2h21.8v5.5h-21.8zM1193.5,380.7h10.9v5.5h-10.9zM1286.2,391.6h10.9v5.5h-10.9zM1286.2,397.1h5.5v5.5h-5.5zM991.9,424.3h5.5v5.5h-5.5zM991.9,429.8h5.5v5.5h-5.5zM1291.7,429.8h10.9v5.5h-10.9zM1291.7,435.2h10.9v5.5h-10.9zM959.2,440.7h21.8v5.5h-21.8zM1291.7,440.7h10.9v5.5h-10.9zM970.1,446.1h10.9v5.5h-10.9zM1280.8,446.1h21.8v5.5h-21.8zM1280.8,451.6h27.2v5.5h-27.2zM1280.8,457h27.2v5.5h-27.2zM991.9,462.4h10.9v5.5h-10.9zM1280.8,462.4h27.2v5.5h-27.2zM986.5,467.9h16.3v5.5h-16.3zM986.5,473.4h16.3v5.5h-16.3zM1297.1,484.2h16.4v5.5h-16.4zM1002.8,489.7h16.4v5.5h-16.4zM1297.1,489.7h16.4v5.5h-16.4zM1002.8,495.2h16.4v5.5h-16.4zM1002.8,500.6h16.4v5.5h-16.4zM1002.8,506.1h16.4v5.5h-16.4zM1308,522.4h10.9v5.5h-10.9zM1308,527.9h5.5v5.5h-5.5zM1002.8,538.8h16.4v5.5h-16.4zM1002.8,544.2h16.4v5.5h-16.4zM1002.8,549.6h16.4v5.5h-16.4zM1002.8,555.1h16.4v5.5h-16.4zM1008.2,560.6h16.3v5.5h-16.3zM1297.1,560.6h10.9v5.5h-10.9zM1013.7,566h10.9v5.5h-10.9zM1297.1,566h16.4v5.5h-16.4zM1024.6,571.5h10.9v5.5h-10.9zM1297.1,582.4h5.5v5.5h-5.5zM1297.1,587.8h5.5v5.5h-5.5zM1035.5,593.2h10.9v5.5h-10.9zM1041,598.7h5.5v5.5h-5.5zM1297.1,609.6h5.5v5.5h-5.5zM1291.7,615.1h10.9v5.5h-10.9zM1057.3,620.5h10.9v5.5h-10.9zM1291.7,620.5h5.4v5.5h-5.4zM1057.3,626h10.9v5.5h-10.9zM1068.2,647.8h5.5v5.5h-5.5zM1068.2,653.2h10.9v5.5h-10.9zM1079.1,696.8h10.9v5.5h-10.9zM1079.1,702.2h10.9v5.5h-10.9zM1079.1,707.7h10.9v5.5h-10.9zM1095.5,789.5h16.3v5.5h-16.3zM1100.9,794.9h10.9v5.5h-10.9zM1100.9,800.4h10.9v5.5h-10.9zM1100.9,805.8h21.8v5.5h-21.8zM1106.3,811.2h16.4v5.5h-16.4zM1150,811.2h10.9v5.5h-10.9zM1106.3,816.7h16.4v5.5h-16.4zM1150,816.7h16.3v5.5h-16.3zM1111.8,822.1h16.4v5.5h-16.4zM1150,822.1h16.3v5.5h-16.3zM1117.2,827.6h10.9v5.5h-10.9zM1139,827.6h27.2v5.5h-27.2zM1117.2,833.1h10.9v5.5h-10.9zM1139,833.1h27.2v5.5h-27.2zM1139,838.5h27.2v5.5h-27.2z" fill="#d0d0d0"/>
<path d="M1253.5,81h5.5v5.5h-5.5zM1220.8,86.4h27.2v5.5h-27.2zM1220.8,91.9h27.2v5.5h-27.2zM1226.2,97.3h10.9v5.5h-10.9z" fill="#0078f0"/>
<path d="M1150,108.2h21.8v5.5h-21.8zM1144.5,113.7h27.2v5.5h-27.2zM1144.5,119.1h10.9v5.5h-10.9zM1144.5,124.5h10.9v5.5h-10.9zM1171.8,124.5h10.9v5.5h-10.9zM1144.5,130h16.3v5.5h-16.3zM1171.8,130h16.3v5.5h-16.3zM1041,135.4h5.5v5.5h-5.5zM1150,135.4h10.9v5.5h-10.9zM1182.7,135.4h10.9v5.5h-10.9zM1041,140.9h10.9v5.5h-10.9zM1150,140.9h16.3v5.5h-16.3zM1188.1,140.9h10.9v5.5h-10.9zM1041,146.4h16.3v5.5h-16.3zM1150,146.4h21.8v5.5h-21.8zM1188.1,146.4h10.9v5.5h-10.9zM1248,146.4h21.8v5.5h-21.8zM1046.4,151.8h10.9v5.5h-10.9zM1100.9,151.8h5.4v5.5h-5.4zM1155.4,151.8h16.3v5.5h-16.3zM1188.1,151.8h27.2v5.5h-27.2zM1231.7,151.8h16.3v5.5h-16.3zM1275.3,151.8h5.5v5.5h-5.5zM1046.4,157.2h130.8v5.5h-130.8zM1188.1,157.2h5.5v5.5h-5.5zM1199,157.2h43.6v5.5h-43.6zM1046.4,162.7h130.8v5.5h-130.8zM1188.1,162.7h5.5v5.5h-5.5zM1199,162.7h43.6v5.5h-43.6zM1275.3,162.7h5.5v5.5h-5.5zM1046.4,168.2h196.2v5.5h-196.2zM1275.3,168.2h5.5v5.5h-5.5zM1035.5,173.6h16.3v5.5h-16.3zM1128.2,173.6h141.7v5.5h-141.7zM1035.5,179.1h16.3v5.5h-16.3zM1155.4,179.1h103.5v5.5h-103.5zM1024.6,184.5h21.8v5.5h-21.8zM1160.8,184.5h92.7v5.5h-92.7zM1013.7,190h27.2v5.5h-27.2zM1171.8,190h81.8v5.5h-81.8zM997.4,195.4h43.6v5.5h-43.6zM1177.2,195.4h76.3v5.5h-76.3zM986.5,200.8h49v5.5h-49zM1182.7,200.8h32.7v5.5h-32.7zM1220.8,200.8h32.7v5.5h-32.7zM981,206.3h43.6v5.5h-43.6zM1188.1,206.3h21.8v5.5h-21.8zM1226.2,206.3h10.9v5.5h-10.9zM1248,206.3h5.5v5.5h-5.5zM975.5,211.8h32.7v5.5h-32.7zM1226.2,211.8h5.5v5.5h-5.5zM1248,211.8h5.5v5.5h-5.5zM970.1,217.2h21.8v5.5h-21.8zM1248,217.2h5.5v5.5h-5.5zM970.1,222.7h16.4v5.5h-16.4zM1248,222.7h5.5v5.5h-5.5zM975.5,228.1h27.2v5.5h-27.2zM1242.6,228.1h10.9v5.5h-10.9zM975.5,233.6h32.7v5.5h-32.7zM1237.2,233.6h16.3v5.5h-16.3zM975.5,239h38.2v5.5h-38.2zM1220.8,239h10.9v5.5h-10.9zM1237.2,239h16.3v5.5h-16.3zM981,244.5h32.7v5.5h-32.7zM1220.8,244.5h49v5.5h-49zM997.4,249.9h16.4v5.5h-16.4zM1220.8,249.9h54.5v5.5h-54.5zM1308,249.9h21.8v5.5h-21.8zM1346.2,249.9h10.9v5.5h-10.9zM997.4,255.3h16.4v5.5h-16.4zM1215.3,255.3h60v5.5h-60zM1286.2,255.3h49v5.5h-49zM1346.2,255.3h16.3v5.5h-16.3zM997.4,260.8h16.4v5.5h-16.4zM1204.5,260.8h130.8v5.5h-130.8zM1346.2,260.8h16.3v5.5h-16.3zM997.4,266.2h16.4v5.5h-16.4zM1199,266.2h163.5v5.5h-163.5zM997.4,271.7h10.9v5.5h-10.9zM1199,271.7h87.2v5.5h-87.2zM1302.5,271.7h32.7v5.5h-32.7zM997.4,277.2h10.9v5.5h-10.9zM1199,277.2h81.8v5.5h-81.8zM997.4,282.6h5.4v5.5h-5.4zM1199,282.6h27.2v5.5h-27.2zM1231.7,282.6h49v5.5h-49zM997.4,288.1h5.4v5.5h-5.4zM1199,288.1h27.2v5.5h-27.2zM1248,288.1h32.7v5.5h-32.7zM997.4,293.5h5.4v5.5h-5.4zM1199,293.5h21.8v5.5h-21.8zM1264.4,293.5h16.3v5.5h-16.3zM1199,298.9h27.2v5.5h-27.2zM1199,304.4h38.2v5.5h-38.2zM1259,304.4h27.2v5.5h-27.2zM1209.9,309.9h27.2v5.5h-27.2zM1264.4,309.9h16.3v5.5h-16.3zM1209.9,315.3h27.2v5.5h-27.2zM1209.9,320.8h27.2v5.5h-27.2zM964.6,326.2h10.9v5.5h-10.9zM1215.3,326.2h10.9v5.5h-10.9zM1002.8,331.7h5.5v5.5h-5.5zM1215.3,331.7h5.5v5.5h-5.5zM1002.8,337.1h5.5v5.5h-5.5zM1002.8,342.6h5.5v5.5h-5.5zM1002.8,348h5.5v5.5h-5.5zM1002.8,353.4h5.5v5.5h-5.5zM1002.8,358.9h5.5v5.5h-5.5zM1002.8,364.4h5.5v5.5h-5.5zM1008.2,375.2h32.7v5.5h-32.7zM1024.6,380.7h16.4v5.5h-16.4zM1030,386.2h10.9v5.5h-10.9zM1035.5,391.6h10.9v5.5h-10.9zM1041,397.1h10.9v5.5h-10.9zM1182.7,397.1h16.3v5.5h-16.3zM1041,402.5h10.9v5.5h-10.9zM1171.8,402.5h27.2v5.5h-27.2zM1041,407.9h10.9v5.5h-10.9zM1171.8,407.9h27.2v5.5h-27.2zM1046.4,413.4h5.4v5.5h-5.4zM1128.2,413.4h10.9v5.5h-10.9zM1166.3,413.4h32.7v5.5h-32.7zM1046.4,418.9h5.4v5.5h-5.4zM1117.2,418.9h21.8v5.5h-21.8zM1150,418.9h49v5.5h-49zM1051.8,424.3h10.9v5.5h-10.9zM1117.2,424.3h76.3v5.5h-76.3zM964.6,429.8h16.4v5.5h-16.4zM1057.3,429.8h10.9v5.5h-10.9zM1090,429.8h5.5v5.5h-5.5zM1117.2,429.8h76.3v5.5h-76.3zM964.6,435.2h21.8v5.5h-21.8zM1062.8,435.2h5.5v5.5h-5.5zM1090,435.2h5.5v5.5h-5.5zM1117.2,435.2h27.2v5.5h-27.2zM1150,435.2h43.6v5.5h-43.6zM981,440.7h5.5v5.5h-5.5zM1068.2,440.7h27.2v5.5h-27.2zM1117.2,440.7h27.2v5.5h-27.2zM1150,440.7h49v5.5h-49zM964.6,446.1h5.5v5.5h-5.5zM1073.7,446.1h21.8v5.5h-21.8zM1117.2,446.1h27.2v5.5h-27.2zM1150,446.1h49v5.5h-49zM970.1,451.6h10.9v5.5h-10.9zM1079.1,451.6h16.4v5.5h-16.4zM1117.2,451.6h27.2v5.5h-27.2zM1160.8,451.6h38.2v5.5h-38.2zM1079.1,457h16.4v5.5h-16.4zM1117.2,457h27.2v5.5h-27.2zM1166.3,457h32.7v5.5h-32.7zM1122.7,462.4h27.2v5.5h-27.2zM1171.8,462.4h27.2v5.5h-27.2zM1122.7,467.9h27.2v5.5h-27.2zM1177.2,467.9h21.8v5.5h-21.8zM1209.9,467.9h5.4v5.5h-5.4zM1122.7,473.4h27.2v5.5h-27.2zM1182.7,473.4h32.7v5.5h-32.7zM1133.6,478.8h21.8v5.5h-21.8zM1188.1,478.8h27.2v5.5h-27.2zM1133.6,484.2h27.2v5.5h-27.2zM1188.1,484.2h27.2v5.5h-27.2zM1133.6,489.7h21.8v5.5h-21.8zM1188.1,489.7h32.7v5.5h-32.7zM1139,495.2h21.8v5.5h-21.8zM1182.7,495.2h38.1v5.5h-38.1zM1286.2,495.2h21.8v5.5h-21.8zM1144.5,500.6h76.3v5.5h-76.3zM1286.2,500.6h27.2v5.5h-27.2zM1144.5,506.1h76.3v5.5h-76.3zM1280.8,506.1h27.2v5.5h-27.2zM1150,511.5h65.4v5.5h-65.4zM1275.3,511.5h21.8v5.5h-21.8zM1155.4,517h59.9v5.5h-59.9zM1275.3,517h21.8v5.5h-21.8zM1160.8,522.4h49.1v5.5h-49.1zM1166.3,527.9h43.6v5.5h-43.6zM1171.8,533.3h32.7v5.5h-32.7zM1019.1,538.8h5.4v5.5h-5.4zM1177.2,538.8h21.8v5.5h-21.8zM1019.1,544.2h21.8v5.5h-21.8zM1030,549.6h10.9v5.5h-10.9zM1177.2,571.5h21.8v5.5h-21.8zM1177.2,576.9h32.7v5.5h-32.7zM1171.8,582.4h38.2v5.5h-38.2zM1160.8,587.8h49.1v5.5h-49.1zM1160.8,593.2h49.1v5.5h-49.1zM1160.8,598.7h49.1v5.5h-49.1zM1160.8,604.1h54.5v5.5h-54.5zM1160.8,609.6h54.5v5.5h-54.5zM1160.8,615.1h60v5.5h-60zM1160.8,620.5h60v5.5h-60zM1160.8,626h60v5.5h-60zM1160.8,631.4h54.5v5.5h-54.5zM1160.8,636.9h54.5v5.5h-54.5zM1160.8,642.3h49.1v5.5h-49.1zM1160.8,647.8h21.8v5.5h-21.8zM1188.1,647.8h21.8v5.5h-21.8zM1160.8,653.2h16.4v5.5h-16.4zM1188.1,653.2h21.8v5.5h-21.8zM1160.8,658.6h16.4v5.5h-16.4zM1188.1,658.6h21.8v5.5h-21.8zM1166.3,664.1h10.9v5.5h-10.9zM1188.1,664.1h21.8v5.5h-21.8zM1171.8,669.6h5.5v5.5h-5.5zM1199,669.6h10.9v5.5h-10.9zM1171.8,675h38.2v5.5h-38.2zM1171.8,680.5h38.2v5.5h-38.2zM1171.8,685.9h32.7v5.5h-32.7zM1171.8,691.4h27.2v5.5h-27.2zM1171.8,696.8h27.2v5.5h-27.2zM1111.8,751.3h10.9v5.5h-10.9zM1117.2,756.8h10.9v5.5h-10.9zM1117.2,767.6h10.9v5.5h-10.9zM1111.8,773.1h16.4v5.5h-16.4zM1111.8,778.6h21.8v5.5h-21.8zM1111.8,784h21.8v5.5h-21.8zM1111.8,789.5h16.4v5.5h-16.4zM1150,789.5h10.9v5.5h-10.9zM1144.5,794.9h21.8v5.5h-21.8zM1144.5,800.4h5.5v5.5h-5.5zM1133.6,816.7h10.9v5.5h-10.9zM1128.2,822.1h16.3v5.5h-16.3z" fill="#f0f0f0"/>
<path d="M1155.4,119.1h16.3v5.5h-16.3zM1155.4,124.5h16.3v5.5h-16.3zM1160.8,130h10.9v5.5h-10.9zM1160.8,135.4h21.8v5.5h-21.8zM1166.3,140.9h21.8v5.5h-21.8zM1171.8,146.4h16.3v5.5h-16.3zM1269.8,146.4h5.5v5.5h-5.5zM1171.8,151.8h16.3v5.5h-16.3zM1248,151.8h27.2v5.5h-27.2zM1177.2,157.2h10.9v5.5h-10.9zM1193.5,157.2h5.5v5.5h-5.5zM1242.6,157.2h38.2v5.5h-38.2zM1177.2,162.7h10.9v5.5h-10.9zM1193.5,162.7h5.5v5.5h-5.5zM1242.6,162.7h32.7v5.5h-32.7zM1242.6,168.2h32.7v5.5h-32.7zM1051.8,173.6h5.5v5.5h-5.5zM1068.2,173.6h60v5.5h-60zM1051.8,179.1h103.6v5.5h-103.6zM1046.4,184.5h38.1v5.5h-38.1zM1095.5,184.5h10.9v5.5h-10.9zM1128.2,184.5h32.7v5.5h-32.7zM1041,190h32.7v5.5h-32.7zM1144.5,190h27.2v5.5h-27.2zM1041,195.4h27.2v5.5h-27.2zM1155.4,195.4h21.8v5.5h-21.8zM1035.5,200.8h27.2v5.5h-27.2zM1160.8,200.8h21.8v5.5h-21.8zM1215.3,200.8h5.5v5.5h-5.5zM1024.6,206.3h32.7v5.5h-32.7zM1166.3,206.3h21.8v5.5h-21.8zM1209.9,206.3h16.3v5.5h-16.3zM1008.2,211.8h49v5.5h-49zM1171.8,211.8h54.5v5.5h-54.5zM991.9,217.2h54.5v5.5h-54.5zM1182.7,217.2h43.6v5.5h-43.6zM986.5,222.7h54.5v5.5h-54.5zM1193.5,222.7h21.8v5.5h-21.8zM1002.8,228.1h38.2v5.5h-38.2zM1199,228.1h16.3v5.5h-16.3zM1008.2,233.6h27.2v5.5h-27.2zM1199,233.6h16.3v5.5h-16.3zM1013.7,239h21.8v5.5h-21.8zM1193.5,239h27.2v5.5h-27.2zM1013.7,244.5h16.3v5.5h-16.3zM1193.5,244.5h27.2v5.5h-27.2zM1013.7,249.9h10.9v5.5h-10.9zM1193.5,249.9h27.2v5.5h-27.2zM1013.7,255.3h5.4v5.5h-5.4zM1193.5,255.3h21.8v5.5h-21.8zM1193.5,260.8h10.9v5.5h-10.9zM1193.5,266.2h5.5v5.5h-5.5zM1008.2,271.7h5.5v5.5h-5.5zM1193.5,271.7h5.5v5.5h-5.5zM1008.2,277.2h5.5v5.5h-5.5zM1193.5,277.2h5.5v5.5h-5.5zM1002.8,282.6h5.5v5.5h-5.5zM1193.5,282.6h5.5v5.5h-5.5zM1002.8,288.1h5.5v5.5h-5.5zM1193.5,288.1h5.5v5.5h-5.5zM1002.8,293.5h5.5v5.5h-5.5zM1193.5,293.5h5.5v5.5h-5.5zM1002.8,298.9h5.5v5.5h-5.5zM1193.5,298.9h5.5v5.5h-5.5zM1002.8,304.4h5.5v5.5h-5.5zM1193.5,304.4h5.5v5.5h-5.5zM1002.8,309.9h5.5v5.5h-5.5zM1193.5,309.9h16.4v5.5h-16.4zM1002.8,315.3h5.5v5.5h-5.5zM1193.5,315.3h16.4v5.5h-16.4zM1002.8,320.8h10.9v5.5h-10.9zM1193.5,320.8h16.4v5.5h-16.4zM1002.8,326.2h10.9v5.5h-10.9zM1008.2,331.7h5.5v5.5h-5.5zM1008.2,337.1h5.5v5.5h-5.5zM1008.2,342.6h5.5v5.5h-5.5zM1008.2,348h5.5v5.5h-5.5zM1046.4,348h27.2v5.5h-27.2zM1008.2,353.4h5.5v5.5h-5.5zM1041,353.4h32.7v5.5h-32.7zM1008.2,358.9h43.6v5.5h-43.6zM1068.2,358.9h5.5v5.5h-5.5zM1188.1,358.9h5.5v5.5h-5.5zM1008.2,364.4h38.2v5.5h-38.2zM1068.2,364.4h5.5v5.5h-5.5zM1188.1,364.4h5.5v5.5h-5.5zM1019.1,369.8h10.9v5.5h-10.9zM1068.2,369.8h5.5v5.5h-5.5zM1188.1,369.8h5.5v5.5h-5.5zM1062.8,375.2h10.9v5.5h-10.9zM1188.1,375.2h5.5v5.5h-5.5zM1062.8,380.7h10.9v5.5h-10.9zM1182.7,380.7h10.9v5.5h-10.9zM1057.3,386.2h16.4v5.5h-16.4zM1177.2,386.2h16.3v5.5h-16.3zM1057.3,391.6h16.4v5.5h-16.4zM1166.3,391.6h21.8v5.5h-21.8zM1057.3,397.1h27.2v5.5h-27.2zM1133.6,397.1h49.1v5.5h-49.1zM1068.2,402.5h32.7v5.5h-32.7zM1122.7,402.5h49v5.5h-49zM1073.7,407.9h98.1v5.5h-98.1zM1079.1,413.4h49.1v5.5h-49.1zM1139,413.4h27.2v5.5h-27.2zM1139,418.9h10.9v5.5h-10.9zM1144.5,435.2h5.5v5.5h-5.5zM1144.5,440.7h5.5v5.5h-5.5zM1144.5,446.1h5.5v5.5h-5.5zM1144.5,451.6h16.3v5.5h-16.3zM1144.5,457h21.8v5.5h-21.8zM1150,462.4h21.8v5.5h-21.8zM1150,467.9h27.2v5.5h-27.2zM1150,473.4h32.7v5.5h-32.7zM1155.4,478.8h32.7v5.5h-32.7zM1160.8,484.2h27.2v5.5h-27.2zM1155.4,489.7h32.7v5.5h-32.7zM1160.8,495.2h21.8v5.5h-21.8zM1182.7,647.8h5.4v5.5h-5.4zM1177.2,653.2h10.9v5.5h-10.9zM1177.2,658.6h10.9v5.5h-10.9zM1177.2,664.1h10.9v5.5h-10.9zM1177.2,669.6h21.8v5.5h-21.8zM1150,800.4h5.5v5.5h-5.5zM1144.5,805.8h10.9v5.5h-10.9zM1144.5,811.2h5.5v5.5h-5.5z" fill="#f0e800"/>
<path d="M1286.2,124.5h10.9v5.5h-10.9zM1286.2,130h10.9v5.5h-10.9zM1242.6,669.6h10.9v5.5h-10.9zM1242.6,675h10.9v5.5h-10.9zM1166.3,811.2h21.8v5.5h-21.8zM1166.3,816.7h21.8v5.5h-21.8zM1166.3,822.1h21.8v5.5h-21.8zM1166.3,827.6h10.9v5.5h-10.9z" fill="#0060e0"/>
<path d="M1084.5,184.5h10.9v5.5h-10.9zM1106.3,184.5h21.8v5.5h-21.8zM1073.7,190h70.8v5.5h-70.8zM1068.2,195.4h87.2v5.5h-87.2zM1062.8,200.8h27.2v5.5h-27.2zM1106.3,200.8h54.5v5.5h-54.5zM1057.3,206.3h32.7v5.5h-32.7zM1122.7,206.3h43.6v5.5h-43.6zM1057.3,211.8h27.2v5.5h-27.2zM1133.6,211.8h38.2v5.5h-38.2zM1046.4,217.2h27.2v5.5h-27.2zM1139,217.2h43.6v5.5h-43.6zM1041,222.7h27.2v5.5h-27.2zM1144.5,222.7h49v5.5h-49zM1041,228.1h21.8v5.5h-21.8zM1150,228.1h49v5.5h-49zM1035.5,233.6h21.8v5.5h-21.8zM1150,233.6h49v5.5h-49zM1035.5,239h10.9v5.5h-10.9zM1155.4,239h38.1v5.5h-38.1zM1030,244.5h10.9v5.5h-10.9zM1160.8,244.5h32.7v5.5h-32.7zM1024.6,249.9h16.4v5.5h-16.4zM1160.8,249.9h32.7v5.5h-32.7zM1019.1,255.3h16.4v5.5h-16.4zM1166.3,255.3h27.2v5.5h-27.2zM1013.7,260.8h21.8v5.5h-21.8zM1166.3,260.8h27.2v5.5h-27.2zM1013.7,266.2h16.3v5.5h-16.3zM1171.8,266.2h21.8v5.5h-21.8zM1013.7,271.7h5.4v5.5h-5.4zM1177.2,271.7h16.3v5.5h-16.3zM1182.7,277.2h10.9v5.5h-10.9zM1008.2,282.6h5.5v5.5h-5.5zM1182.7,282.6h10.9v5.5h-10.9zM1008.2,288.1h5.5v5.5h-5.5zM1182.7,288.1h10.9v5.5h-10.9zM1008.2,293.5h5.5v5.5h-5.5zM1182.7,293.5h10.9v5.5h-10.9zM1008.2,298.9h5.5v5.5h-5.5zM1182.7,298.9h10.9v5.5h-10.9zM1008.2,304.4h5.5v5.5h-5.5zM1188.1,304.4h5.5v5.5h-5.5zM1008.2,309.9h5.5v5.5h-5.5zM1188.1,309.9h5.5v5.5h-5.5zM1008.2,315.3h5.5v5.5h-5.5zM1188.1,315.3h5.5v5.5h-5.5zM1013.7,320.8h5.4v5.5h-5.4zM1188.1,320.8h5.5v5.5h-5.5zM1013.7,326.2h5.4v5.5h-5.4zM1188.1,326.2h5.5v5.5h-5.5zM1013.7,331.7h5.4v5.5h-5.4zM1188.1,331.7h5.5v5.5h-5.5zM1013.7,337.1h5.4v5.5h-5.4zM1188.1,337.1h5.5v5.5h-5.5zM1013.7,342.6h16.3v5.5h-16.3zM1035.5,342.6h49v5.5h-49zM1188.1,342.6h5.5v5.5h-5.5zM1013.7,348h32.7v5.5h-32.7zM1073.7,348h10.9v5.5h-10.9zM1188.1,348h5.5v5.5h-5.5zM1013.7,353.4h27.2v5.5h-27.2zM1073.7,353.4h5.4v5.5h-5.4zM1188.1,353.4h5.5v5.5h-5.5zM1073.7,358.9h5.4v5.5h-5.4zM1073.7,364.4h5.4v5.5h-5.4zM1073.7,369.8h5.4v5.5h-5.4zM1073.7,375.2h10.9v5.5h-10.9zM1182.7,375.2h5.4v5.5h-5.4zM1073.7,380.7h10.9v5.5h-10.9zM1177.2,380.7h5.5v5.5h-5.5zM1073.7,386.2h16.3v5.5h-16.3zM1139,386.2h38.2v5.5h-38.2zM1073.7,391.6h27.2v5.5h-27.2zM1133.6,391.6h32.7v5.5h-32.7zM1084.5,397.1h49v5.5h-49zM1100.9,402.5h21.8v5.5h-21.8z" fill="#f0c000"/>
<path d="M1090,200.8h16.3v5.5h-16.3zM1090,206.3h32.7v5.5h-32.7zM1084.5,211.8h49v5.5h-49zM1073.7,217.2h65.4v5.5h-65.4zM1068.2,222.7h76.3v5.5h-76.3zM1062.8,228.1h87.2v5.5h-87.2zM1057.3,233.6h92.7v5.5h-92.7zM1046.4,239h109v5.5h-109zM1041,244.5h21.8v5.5h-21.8zM1073.7,244.5h27.2v5.5h-27.2zM1106.3,244.5h54.5v5.5h-54.5zM1041,249.9h5.5v5.5h-5.5zM1090,249.9h5.5v5.5h-5.5zM1117.2,249.9h43.6v5.5h-43.6zM1035.5,255.3h5.5v5.5h-5.5zM1090,255.3h5.5v5.5h-5.5zM1122.7,255.3h43.6v5.5h-43.6zM1133.6,260.8h32.7v5.5h-32.7zM1030,266.2h5.5v5.5h-5.5zM1139,266.2h32.7v5.5h-32.7zM1019.1,271.7h16.4v5.5h-16.4zM1150,271.7h27.2v5.5h-27.2zM1013.7,277.2h16.3v5.5h-16.3zM1150,277.2h32.7v5.5h-32.7zM1013.7,282.6h16.3v5.5h-16.3zM1150,282.6h32.7v5.5h-32.7zM1013.7,288.1h16.3v5.5h-16.3zM1150,288.1h32.7v5.5h-32.7zM1013.7,293.5h16.3v5.5h-16.3zM1155.4,293.5h27.2v5.5h-27.2zM1013.7,298.9h10.9v5.5h-10.9zM1155.4,298.9h27.2v5.5h-27.2zM1013.7,304.4h10.9v5.5h-10.9zM1160.8,304.4h27.2v5.5h-27.2zM1013.7,309.9h10.9v5.5h-10.9zM1166.3,309.9h21.8v5.5h-21.8zM1013.7,315.3h10.9v5.5h-10.9zM1166.3,315.3h21.8v5.5h-21.8zM1019.1,320.8h10.9v5.5h-10.9zM1166.3,320.8h21.8v5.5h-21.8zM1019.1,326.2h10.9v5.5h-10.9zM1171.8,326.2h16.3v5.5h-16.3zM1019.1,331.7h16.4v5.5h-16.4zM1171.8,331.7h16.3v5.5h-16.3zM1019.1,337.1h32.7v5.5h-32.7zM1057.3,337.1h21.8v5.5h-21.8zM1171.8,337.1h16.3v5.5h-16.3zM1030,342.6h5.5v5.5h-5.5zM1084.5,342.6h5.5v5.5h-5.5zM1171.8,342.6h10.9v5.5h-10.9zM1084.5,348h5.5v5.5h-5.5zM1150,348h5.5v5.5h-5.5zM1171.8,348h10.9v5.5h-10.9zM1079.1,353.4h10.9v5.5h-10.9zM1144.5,353.4h16.3v5.5h-16.3zM1166.3,353.4h16.4v5.5h-16.4zM1079.1,358.9h16.4v5.5h-16.4zM1122.7,358.9h38.1v5.5h-38.1zM1166.3,358.9h21.8v5.5h-21.8zM1079.1,364.4h109v5.5h-109zM1079.1,369.8h109v5.5h-109zM1084.5,375.2h98.1v5.5h-98.1zM1084.5,380.7h92.7v5.5h-92.7zM1090,386.2h49v5.5h-49zM1100.9,391.6h32.7v5.5h-32.7zM1144.5,816.7h5.5v5.5h-5.5z" fill="#f0a800"/>
<path d="M1062.8,244.5h10.9v5.5h-10.9zM1100.9,244.5h5.4v5.5h-5.4zM1046.4,249.9h43.6v5.5h-43.6zM1095.5,249.9h21.8v5.5h-21.8zM1041,255.3h49v5.5h-49zM1095.5,255.3h27.2v5.5h-27.2zM1035.5,260.8h98.1v5.5h-98.1zM1035.5,266.2h103.5v5.5h-103.5zM1035.5,271.7h54.5v5.5h-54.5zM1095.5,271.7h54.5v5.5h-54.5zM1030,277.2h43.6v5.5h-43.6zM1095.5,277.2h54.5v5.5h-54.5zM1030,282.6h32.7v5.5h-32.7zM1095.5,282.6h54.5v5.5h-54.5zM1030,288.1h32.7v5.5h-32.7zM1095.5,288.1h54.5v5.5h-54.5zM1030,293.5h32.7v5.5h-32.7zM1095.5,293.5h60v5.5h-60zM1024.6,298.9h43.6v5.5h-43.6zM1090,298.9h65.4v5.5h-65.4zM1024.6,304.4h60v5.5h-60zM1090,304.4h70.8v5.5h-70.8zM1024.6,309.9h141.7v5.5h-141.7zM1024.6,315.3h141.7v5.5h-141.7zM1030,320.8h136.2v5.5h-136.2zM1030,326.2h141.7v5.5h-141.7zM1035.5,331.7h136.2v5.5h-136.2zM1051.8,337.1h5.5v5.5h-5.5zM1079.1,337.1h92.7v5.5h-92.7zM1090,342.6h81.8v5.5h-81.8zM1090,348h60v5.5h-60zM1155.4,348h16.3v5.5h-16.3zM1090,353.4h54.5v5.5h-54.5zM1160.8,353.4h5.5v5.5h-5.5zM1095.5,358.9h27.2v5.5h-27.2zM1160.8,358.9h5.5v5.5h-5.5z" fill="#f06000"/>
<path d="M1090,271.7h5.5v5.5h-5.5zM1073.7,277.2h21.8v5.5h-21.8zM1062.8,282.6h32.7v5.5h-32.7zM1062.8,288.1h32.7v5.5h-32.7zM1062.8,293.5h32.7v5.5h-32.7zM1068.2,298.9h21.8v5.5h-21.8zM1084.5,304.4h5.5v5.5h-5.5z" fill="#e00000"/>
</g>
<path d="M1103.9,74.6 1093.3,66.2 1082.7,69.3 1072.1,63 1057.3,46 1053,40.7 1042.5,32.9 1036,37.5 1028.7,34.4 1023.4,41.8 1018,46 1019.2,50.3 1002.2,59.8 1001.1,57 985.3,62.5 975.7,70.4 968.3,82 951.4,91.6 949.2,86.3 940.8,90.1 942.9,101.1 935.5,109.6 930.2,120.2 922.8,122.3 923.8,128.6 916.4,140.3 909,148.8 896.3,156.2 892,155.1 884.6,166.8 883.6,172.1 874,177.4 870.8,188 870.8,200.7 873,213.4 869.2,230.3 867.7,230 875,240.6 887.8,255.4 894.2,272.4 904.7,283 913.2,295.7 912.2,312.6 921.7,325.3 925.9,344.4 932.3,357.1 934.4,374 938.6,386.8 935.5,388.9 941.8,399.5 940.8,412.2 949.2,422.8 955.6,435.5 957.2,440 972,450.6 981.6,465.4 985.8,480.3 993.2,495.1 1003.8,514.2 1010.2,531.1 1009.1,543.8 1004.9,555.5 1005.9,562.9 1014.4,569.2 1025,575.6 1032.4,586.2 1037.7,601 1048.3,609.5 1052.5,622.2 1061,637 1069.5,649.7 1075.8,658.2 1078.1,662 1084.5,681.2 1087.7,698.1 1082.4,708.7 1090.8,715.1 1091.9,744.7 1089.8,755.3 1090.8,770.2 1097.2,785 1101.4,795.6 1103.6,808.3 1109.9,823.1 1120.5,835.8 1124.7,842.2 1135.3,846.4 1145.9,851.7 1150.2,856 1155.5,851.7 1162.9,846.4 1167.1,838 1169.2,829.5 1177.7,816.8 1188.3,791.4 1192.5,774.4 1203.1,763.8 1211.6,753.2 1220.1,736.3 1226.4,725.7 1232.8,721.4 1239.2,708.7 1245.5,691.8 1250,680 1251.7,675 1256.7,668.3 1263.3,661.7 1273.3,653.3 1280,646.7 1286.7,636.7 1295,626.7 1300,620.8 1299.2,613.3 1300,606.7 1300.8,595 1306.7,588.3 1308.3,578.3 1310,566.7 1311.7,553.3 1308.3,543.3 1311.7,535 1315,528.3 1320,518.3 1319.2,510 1315,503.3 1313.3,493.3 1310,481.7 1308.3,473.3 1310.8,461.7 1306.7,456.7 1305.6,454.6 1300.3,446.1 1302.4,435.5 1291.8,429.2 1289.7,420.7 1291.8,412.2 1288.7,403.7 1296.1,395.3 1305.6,382.5 1306.7,369.8 1310.9,359.2 1319.4,348.6 1332.1,335.9 1346.9,325.3 1355.4,316.9 1357.5,304.2 1367.1,290.4 1372.4,281.9 1371.3,274.5 1362.8,270.3 1361.8,257.5 1355.4,249.1 1351.2,239.5 1345.8,240 1341.5,234.6 1337.3,224 1328.8,209.2 1324.6,200.7 1322.5,190.1 1318.2,181.6 1314,166.8 1314,149.8 1309.7,143.5 1306.6,132.9 1299.2,124.4 1293.9,113.8 1294.9,105.3 1286.4,103.2 1288.6,94.7 1284.3,88.4 1282.2,75.7 1275.8,73.6 1264.2,70.4 1263.1,66.1 1252.5,69.3 1248.3,66.1 1244.1,68.3 1227.1,67.2 1214.4,73.6 1199.6,77.8 1184.7,79.9 1163.6,83.1 1144.5,84.2 1131.8,78.9 1114.8,79.9Z" fill="none" stroke="#101010" stroke-width="1.5" stroke-linejoin="round"/>
<rect x="1016" y="26" width="5" height="3.5" fill="#60f0f0"/>
<rect x="1028" y="26" width="5" height="3.5" fill="#60f0f0"/>
<rect x="1070" y="29" width="5" height="3.5" fill="#60f0f0"/>
<rect x="1082" y="22" width="5" height="3.5" fill="#60f0f0"/>
<rect x="1261" y="669" width="5" height="3.5" fill="#0078f0"/>
<rect x="1262" y="674" width="5" height="3.5" fill="#0078f0"/>
<line x1="1098.7" y1="21" x2="1098.7" y2="884.2" stroke="#14e614" stroke-width="4.6"/>
<line x1="1190.3" y1="21" x2="1190.3" y2="884.2" stroke="#14e614" stroke-width="4.6"/>
<line x1="828.4" y1="302" x2="1409.4" y2="302" stroke="#14e614" stroke-width="4.6"/>
<line x1="828.4" y1="483.4" x2="1409.4" y2="483.4" stroke="#14e614" stroke-width="4.6"/>
<line x1="828.4" y1="666.4" x2="1409.4" y2="666.4" stroke="#14e614" stroke-width="4.6"/>
<line x1="1071.7" y1="182.9" x2="1100.3" y2="182.9" stroke="#41719c" stroke-width="6.2"/>
<line x1="1124.7" y1="182.9" x2="1154.3" y2="182.9" stroke="#41719c" stroke-width="6.2"/>
<line x1="1169.2" y1="200.3" x2="1191.4" y2="221.4" stroke="#41719c" stroke-width="6.2"/>
<line x1="1206.2" y1="237.3" x2="1228.5" y2="258.5" stroke="#41719c" stroke-width="6.2"/>
<line x1="1234.4" y1="279.7" x2="1234.4" y2="308.3" stroke="#41719c" stroke-width="6.2"/>
<line x1="1234.4" y1="332.7" x2="1234.4" y2="341" stroke="#41719c" stroke-width="6.2"/>
<line x1="1234.4" y1="341" x2="1222" y2="355" stroke="#41719c" stroke-width="6.2"/>
<line x1="1204" y1="371.9" x2="1185" y2="393" stroke="#41719c" stroke-width="6.2"/>
<line x1="1138.4" y1="409" x2="1168" y2="409" stroke="#41719c" stroke-width="6.2"/>
<line x1="1085.5" y1="409" x2="1115" y2="409" stroke="#41719c" stroke-width="6.2"/>
<line x1="1044.2" y1="378.2" x2="1066.4" y2="400.5" stroke="#41719c" stroke-width="6.2"/>
<line x1="1007" y1="342.2" x2="1029.3" y2="363.4" stroke="#41719c" stroke-width="6.2"/>
<line x1="992.2" y1="296.7" x2="992.2" y2="325.3" stroke="#41719c" stroke-width="6.2"/>
<line x1="992.2" y1="249" x2="992.2" y2="271.2" stroke="#41719c" stroke-width="6.2"/>
<line x1="992.2" y1="249" x2="1014.5" y2="227.8" stroke="#41719c" stroke-width="6.2"/>
<line x1="1030.4" y1="210.8" x2="1051.6" y2="190.7" stroke="#41719c" stroke-width="6.2"/>
<line x1="1138.6" y1="427.6" x2="1153.3" y2="421.1" stroke="#41719c" stroke-width="3.8"/>
<line x1="1153.3" y1="421.1" x2="1154.5" y2="425.5" stroke="#41719c" stroke-width="3.8"/>
<line x1="1136.8" y1="440.5" x2="1146" y2="456.1" stroke="#41719c" stroke-width="3.8"/>
<line x1="1153.3" y1="472.6" x2="1162.5" y2="488.3" stroke="#41719c" stroke-width="3.8"/>
<line x1="1169.9" y1="503.9" x2="1179.1" y2="520.5" stroke="#41719c" stroke-width="3.8"/>
<line x1="1161.6" y1="440.5" x2="1170.8" y2="457.9" stroke="#41719c" stroke-width="3.8"/>
<line x1="1178.2" y1="472.6" x2="1187.4" y2="490.1" stroke="#41719c" stroke-width="3.8"/>
<line x1="1193.8" y1="504.8" x2="1200.2" y2="515" stroke="#41719c" stroke-width="3.8"/>
<line x1="1200.2" y1="515" x2="1206.7" y2="511.3" stroke="#41719c" stroke-width="3.8"/>
<line x1="1167.1" y1="529.7" x2="1175.4" y2="526" stroke="#41719c" stroke-width="3.8"/>
<line x1="1175.4" y1="526" x2="1180.9" y2="532.4" stroke="#41719c" stroke-width="3.8"/>
<line x1="1167.1" y1="529.7" x2="1180.9" y2="532.4" stroke="#41719c" stroke-width="3.8"/>
<line x1="1204.8" y1="524.1" x2="1198.4" y2="540.7" stroke="#41719c" stroke-width="3.8"/>
<line x1="1184.6" y1="580.2" x2="1197.5" y2="581.1" stroke="#41719c" stroke-width="3.8"/>
<line x1="1197.5" y1="581.1" x2="1196.6" y2="588.5" stroke="#41719c" stroke-width="3.8"/>
<line x1="1178.2" y1="591.3" x2="1176.9" y2="609.7" stroke="#41719c" stroke-width="3.8"/>
<line x1="1175.4" y1="627.1" x2="1174.1" y2="645.5" stroke="#41719c" stroke-width="3.8"/>
<line x1="1194.2" y1="606" x2="1192.9" y2="624.4" stroke="#41719c" stroke-width="3.8"/>
<line x1="1191.4" y1="642.8" x2="1190.1" y2="661.1" stroke="#41719c" stroke-width="3.8"/>
<line x1="1160.7" y1="665.7" x2="1170.8" y2="675.9" stroke="#41719c" stroke-width="3.8"/>
<line x1="1170.8" y1="675.9" x2="1174" y2="667" stroke="#41719c" stroke-width="3.8"/>
<line x1="1200.2" y1="668.5" x2="1182.8" y2="682.3" stroke="#41719c" stroke-width="3.8"/>
<rect x="828.4" y="21" width="581" height="863.2" fill="none" stroke="#303030" stroke-width="2"/>
<line x1="846.5" y1="21" x2="846.5" y2="32" stroke="#303030" stroke-width="1.6"/>
<line x1="846.5" y1="873.2" x2="846.5" y2="884.2" stroke="#303030" stroke-width="1.6"/>
<line x1="901.5" y1="21" x2="901.5" y2="32" stroke="#303030" stroke-width="1.6"/>
<line x1="901.5" y1="873.2" x2="901.5" y2="884.2" stroke="#303030" stroke-width="1.6"/>
<line x1="956.6" y1="21" x2="956.6" y2="32" stroke="#303030" stroke-width="1.6"/>
<line x1="956.6" y1="873.2" x2="956.6" y2="884.2" stroke="#303030" stroke-width="1.6"/>
<line x1="1011.6" y1="21" x2="1011.6" y2="32" stroke="#303030" stroke-width="1.6"/>
<line x1="1011.6" y1="873.2" x2="1011.6" y2="884.2" stroke="#303030" stroke-width="1.6"/>
<line x1="1066.7" y1="21" x2="1066.7" y2="32" stroke="#303030" stroke-width="1.6"/>
<line x1="1066.7" y1="873.2" x2="1066.7" y2="884.2" stroke="#303030" stroke-width="1.6"/>
<line x1="1121.8" y1="21" x2="1121.8" y2="32" stroke="#303030" stroke-width="1.6"/>
<line x1="1121.8" y1="873.2" x2="1121.8" y2="884.2" stroke="#303030" stroke-width="1.6"/>
<line x1="1176.8" y1="21" x2="1176.8" y2="32" stroke="#303030" stroke-width="1.6"/>
<line x1="1176.8" y1="873.2" x2="1176.8" y2="884.2" stroke="#303030" stroke-width="1.6"/>
<line x1="1231.8" y1="21" x2="1231.8" y2="32" stroke="#303030" stroke-width="1.6"/>
<line x1="1231.8" y1="873.2" x2="1231.8" y2="884.2" stroke="#303030" stroke-width="1.6"/>
<line x1="1286.9" y1="21" x2="1286.9" y2="32" stroke="#303030" stroke-width="1.6"/>
<line x1="1286.9" y1="873.2" x2="1286.9" y2="884.2" stroke="#303030" stroke-width="1.6"/>
<line x1="1342" y1="21" x2="1342" y2="32" stroke="#303030" stroke-width="1.6"/>
<line x1="1342" y1="873.2" x2="1342" y2="884.2" stroke="#303030" stroke-width="1.6"/>
<line x1="1397" y1="21" x2="1397" y2="32" stroke="#303030" stroke-width="1.6"/>
<line x1="1397" y1="873.2" x2="1397" y2="884.2" stroke="#303030" stroke-width="1.6"/>
<line x1="828.4" y1="62.3" x2="840.9" y2="62.3" stroke="#303030" stroke-width="1.6"/>
<line x1="1396.9" y1="62.3" x2="1409.4" y2="62.3" stroke="#303030" stroke-width="1.6"/>
<line x1="828.4" y1="117.2" x2="840.9" y2="117.2" stroke="#303030" stroke-width="1.6"/>
<line x1="1396.9" y1="117.2" x2="1409.4" y2="117.2" stroke="#303030" stroke-width="1.6"/>
<line x1="828.4" y1="172" x2="840.9" y2="172" stroke="#303030" stroke-width="1.6"/>
<line x1="1396.9" y1="172" x2="1409.4" y2="172" stroke="#303030" stroke-width="1.6"/>
<line x1="828.4" y1="226.9" x2="840.9" y2="226.9" stroke="#303030" stroke-width="1.6"/>
<line x1="1396.9" y1="226.9" x2="1409.4" y2="226.9" stroke="#303030" stroke-width="1.6"/>
<line x1="828.4" y1="281.7" x2="840.9" y2="281.7" stroke="#303030" stroke-width="1.6"/>
<line x1="1396.9" y1="281.7" x2="1409.4" y2="281.7" stroke="#303030" stroke-width="1.6"/>
<line x1="828.4" y1="336.6" x2="840.9" y2="336.6" stroke="#303030" stroke-width="1.6"/>
<line x1="1396.9" y1="336.6" x2="1409.4" y2="336.6" stroke="#303030" stroke-width="1.6"/>
<line x1="828.4" y1="391.4" x2="840.9" y2="391.4" stroke="#303030" stroke-width="1.6"/>
<line x1="1396.9" y1="391.4" x2="1409.4" y2="391.4" stroke="#303030" stroke-width="1.6"/>
<line x1="828.4" y1="446.2" x2="840.9" y2="446.2" stroke="#303030" stroke-width="1.6"/>
<line x1="1396.9" y1="446.2" x2="1409.4" y2="446.2" stroke="#303030" stroke-width="1.6"/>
<line x1="828.4" y1="501.1" x2="840.9" y2="501.1" stroke="#303030" stroke-width="1.6"/>
<line x1="1396.9" y1="501.1" x2="1409.4" y2="501.1" stroke="#303030" stroke-width="1.6"/>
<line x1="828.4" y1="556" x2="840.9" y2="556" stroke="#303030" stroke-width="1.6"/>
<line x1="1396.9" y1="556" x2="1409.4" y2="556" stroke="#303030" stroke-width="1.6"/>
<line x1="828.4" y1="610.8" x2="840.9" y2="610.8" stroke="#303030" stroke-width="1.6"/>
<line x1="1396.9" y1="610.8" x2="1409.4" y2="610.8" stroke="#303030" stroke-width="1.6"/>
<line x1="828.4" y1="665.6" x2="840.9" y2="665.6" stroke="#303030" stroke-width="1.6"/>
<line x1="1396.9" y1="665.6" x2="1409.4" y2="665.6" stroke="#303030" stroke-width="1.6"/>
<line x1="828.4" y1="720.5" x2="840.9" y2="720.5" stroke="#303030" stroke-width="1.6"/>
<line x1="1396.9" y1="720.5" x2="1409.4" y2="720.5" stroke="#303030" stroke-width="1.6"/>
<line x1="828.4" y1="775.4" x2="840.9" y2="775.4" stroke="#303030" stroke-width="1.6"/>
<line x1="1396.9" y1="775.4" x2="1409.4" y2="775.4" stroke="#303030" stroke-width="1.6"/>
<line x1="828.4" y1="830.2" x2="840.9" y2="830.2" stroke="#303030" stroke-width="1.6"/>
<line x1="1396.9" y1="830.2" x2="1409.4" y2="830.2" stroke="#303030" stroke-width="1.6"/>
<rect x="1122.2" y="878.5" width="54.5" height="3.5" fill="#d8d8d8"/>
<defs><filter id="ds" x="-30%" y="-30%" width="170%" height="170%"><feGaussianBlur in="SourceAlpha" stdDeviation="1"/><feOffset dx="1.8" dy="1.8" result="b"/><feComponentTransfer in="b" result="s"><feFuncA type="linear" slope="0.38"/></feComponentTransfer><feMerge><feMergeNode in="s"/><feMergeNode in="SourceGraphic"/></feMerge></filter></defs>
<path d="M408.5,174 L476,227.6 L442,227.6 L442,277 L375,277 L375,227.6 L341,227.6 Z" fill="#5b9bd5" stroke="#41719c" stroke-width="1.5" stroke-linejoin="miter"/>
<text x="225.5" y="33.4" font-size="37" text-anchor="start" fill="#000" xml:space="preserve" textLength="392.5" lengthAdjust="spacingAndGlyphs">W  Y=3181000 UTM  E</text>
<text x="245.5" y="328" font-size="37" text-anchor="start" fill="#000" xml:space="preserve" textLength="380.5" lengthAdjust="spacingAndGlyphs">W  Y=3171000UTM  E</text>
<text x="258.5" y="644.5" font-size="37" text-anchor="start" fill="#000" xml:space="preserve" textLength="391" lengthAdjust="spacingAndGlyphs">W  Y=3161000 UTM  E</text>
<text x="335" y="982" font-size="34" text-anchor="start" fill="#000" xml:space="preserve" textLength="28.5" lengthAdjust="spacingAndGlyphs">N</text>
<text x="514" y="982" font-size="34" text-anchor="start" fill="#000" xml:space="preserve" textLength="262" lengthAdjust="spacingAndGlyphs">X=219000 UTM</text>
<text x="951" y="982" font-size="34" text-anchor="start" fill="#000" xml:space="preserve" textLength="25" lengthAdjust="spacingAndGlyphs">S</text>
<text x="310" y="1340.5" font-size="34" text-anchor="start" fill="#000" xml:space="preserve" textLength="28.5" lengthAdjust="spacingAndGlyphs">N</text>
<text x="464.5" y="1340.5" font-size="34" text-anchor="start" fill="#000" xml:space="preserve" textLength="264" lengthAdjust="spacingAndGlyphs">X=224000 UTM</text>
<text x="879" y="1340.5" font-size="34" text-anchor="start" fill="#000" xml:space="preserve" textLength="25" lengthAdjust="spacingAndGlyphs">S</text>
<text x="0" y="171" font-size="62" text-anchor="start" fill="#000" xml:space="preserve" filter="url(#ds)">a</text>
<text x="18.5" y="487.7" font-size="62" text-anchor="start" fill="#000" xml:space="preserve" filter="url(#ds)">b</text>
<text x="69" y="791" font-size="64" text-anchor="start" fill="#000" xml:space="preserve" filter="url(#ds)">c</text>
<text x="65.5" y="1111.5" font-size="62" text-anchor="start" fill="#000" xml:space="preserve" filter="url(#ds)">d</text>
<text x="66" y="1467.6" font-size="64" text-anchor="start" fill="#000" xml:space="preserve" filter="url(#ds)">e</text>
<text x="842" y="287" font-size="42" text-anchor="start" fill="#000" xml:space="preserve" filter="url(#ds)">a</text>
<text x="849" y="473.7" font-size="42" text-anchor="start" fill="#000" xml:space="preserve" filter="url(#ds)">b</text>
<text x="845.5" y="665" font-size="42" text-anchor="start" fill="#000" xml:space="preserve" filter="url(#ds)">c</text>
<text x="1104" y="55.5" font-size="42" text-anchor="start" fill="#000" xml:space="preserve" filter="url(#ds)">d</text>
<text x="1196.5" y="55.5" font-size="42" text-anchor="start" fill="#000" xml:space="preserve" filter="url(#ds)">e</text>
<text x="921" y="741" font-size="38" text-anchor="start" fill="#000" xml:space="preserve" filter="url(#ds)">-800 m</text>
<text x="1230" y="860" font-size="23.5" text-anchor="start" fill="#5a5a5a" xml:space="preserve" class="mono" textLength="87" lengthAdjust="spacingAndGlyphs">3000 m</text>
<g shape-rendering="crispEdges">
<rect x="1215.7" y="984.3" width="34.9" height="28.1" fill="#0010a0"/>
<rect x="1215.7" y="1012.1" width="34.9" height="28.1" fill="#0030c0"/>
<rect x="1215.7" y="1039.9" width="34.9" height="28.1" fill="#0050d0"/>
<rect x="1215.7" y="1067.8" width="34.9" height="28.1" fill="#0060e0"/>
<rect x="1215.7" y="1095.6" width="34.9" height="28.1" fill="#0078f0"/>
<rect x="1215.7" y="1123.4" width="34.9" height="28.1" fill="#0098f0"/>
<rect x="1215.7" y="1151.2" width="34.9" height="28.1" fill="#00b0f0"/>
<rect x="1215.7" y="1179.1" width="34.9" height="28.1" fill="#00d0f0"/>
<rect x="1215.7" y="1206.9" width="34.9" height="28.1" fill="#20e0f0"/>
<rect x="1215.7" y="1234.7" width="34.9" height="28.1" fill="#60f0f0"/>
<rect x="1215.7" y="1262.5" width="34.9" height="28.1" fill="#b0f0f0"/>
<rect x="1215.7" y="1290.3" width="34.9" height="28.1" fill="#f0f0f0"/>
<rect x="1215.7" y="1318.2" width="34.9" height="28.1" fill="#f0f080"/>
<rect x="1215.7" y="1346" width="34.9" height="28.1" fill="#f0e800"/>
<rect x="1215.7" y="1373.8" width="34.9" height="28.1" fill="#f0d800"/>
<rect x="1215.7" y="1401.6" width="34.9" height="28.1" fill="#f0c000"/>
<rect x="1215.7" y="1429.4" width="34.9" height="28.1" fill="#f0a800"/>
<rect x="1215.7" y="1457.3" width="34.9" height="28.1" fill="#f09000"/>
<rect x="1215.7" y="1485.1" width="34.9" height="28.1" fill="#f06800"/>
<rect x="1215.7" y="1512.9" width="34.9" height="28.1" fill="#f04000"/>
<rect x="1215.7" y="1540.7" width="34.9" height="28.1" fill="#e00000"/>
<rect x="1215.7" y="1568.6" width="34.9" height="28.1" fill="#c00000"/>
<rect x="1215.7" y="1596.4" width="34.9" height="28.1" fill="#a00000"/>
</g>
<rect x="1215.7" y="984.3" width="34.9" height="639.9" fill="none" stroke="#202020" stroke-width="1.6"/>
<text x="1194.5" y="1006.6" font-size="22" text-anchor="end" fill="#404040" xml:space="preserve" class="mono" textLength="34.7" lengthAdjust="spacingAndGlyphs">-22</text>
<text x="1194.5" y="1034.4" font-size="22" text-anchor="end" fill="#404040" xml:space="preserve" class="mono" textLength="23.1" lengthAdjust="spacingAndGlyphs">35</text>
<text x="1194.5" y="1062.3" font-size="22" text-anchor="end" fill="#404040" xml:space="preserve" class="mono" textLength="23.1" lengthAdjust="spacingAndGlyphs">92</text>
<text x="1194.5" y="1090.1" font-size="22" text-anchor="end" fill="#404040" xml:space="preserve" class="mono" textLength="34.7" lengthAdjust="spacingAndGlyphs">149</text>
<text x="1194.5" y="1117.9" font-size="22" text-anchor="end" fill="#404040" xml:space="preserve" class="mono" textLength="34.7" lengthAdjust="spacingAndGlyphs">207</text>
<text x="1194.5" y="1145.7" font-size="22" text-anchor="end" fill="#404040" xml:space="preserve" class="mono" textLength="34.7" lengthAdjust="spacingAndGlyphs">264</text>
<text x="1194.5" y="1173.5" font-size="22" text-anchor="end" fill="#404040" xml:space="preserve" class="mono" textLength="34.7" lengthAdjust="spacingAndGlyphs">321</text>
<text x="1194.5" y="1201.4" font-size="22" text-anchor="end" fill="#404040" xml:space="preserve" class="mono" textLength="34.7" lengthAdjust="spacingAndGlyphs">378</text>
<text x="1194.5" y="1229.2" font-size="22" text-anchor="end" fill="#404040" xml:space="preserve" class="mono" textLength="34.7" lengthAdjust="spacingAndGlyphs">435</text>
<text x="1194.5" y="1257" font-size="22" text-anchor="end" fill="#404040" xml:space="preserve" class="mono" textLength="34.7" lengthAdjust="spacingAndGlyphs">492</text>
<text x="1194.5" y="1284.8" font-size="22" text-anchor="end" fill="#404040" xml:space="preserve" class="mono" textLength="34.7" lengthAdjust="spacingAndGlyphs">549</text>
<text x="1194.5" y="1312.7" font-size="22" text-anchor="end" fill="#404040" xml:space="preserve" class="mono" textLength="34.7" lengthAdjust="spacingAndGlyphs">606</text>
<text x="1194.5" y="1340.5" font-size="22" text-anchor="end" fill="#404040" xml:space="preserve" class="mono" textLength="34.7" lengthAdjust="spacingAndGlyphs">664</text>
<text x="1194.5" y="1368.3" font-size="22" text-anchor="end" fill="#404040" xml:space="preserve" class="mono" textLength="34.7" lengthAdjust="spacingAndGlyphs">721</text>
<text x="1194.5" y="1396.1" font-size="22" text-anchor="end" fill="#404040" xml:space="preserve" class="mono" textLength="34.7" lengthAdjust="spacingAndGlyphs">778</text>
<text x="1194.5" y="1423.9" font-size="22" text-anchor="end" fill="#404040" xml:space="preserve" class="mono" textLength="34.7" lengthAdjust="spacingAndGlyphs">835</text>
<text x="1194.5" y="1451.8" font-size="22" text-anchor="end" fill="#404040" xml:space="preserve" class="mono" textLength="34.7" lengthAdjust="spacingAndGlyphs">892</text>
<text x="1194.5" y="1479.6" font-size="22" text-anchor="end" fill="#404040" xml:space="preserve" class="mono" textLength="34.7" lengthAdjust="spacingAndGlyphs">949</text>
<text x="1194.5" y="1507.4" font-size="22" text-anchor="end" fill="#404040" xml:space="preserve" class="mono" textLength="46.2" lengthAdjust="spacingAndGlyphs">1006</text>
<text x="1194.5" y="1535.2" font-size="22" text-anchor="end" fill="#404040" xml:space="preserve" class="mono" textLength="46.2" lengthAdjust="spacingAndGlyphs">1063</text>
<text x="1194.5" y="1563" font-size="22" text-anchor="end" fill="#404040" xml:space="preserve" class="mono" textLength="46.2" lengthAdjust="spacingAndGlyphs">1121</text>
<text x="1194.5" y="1590.9" font-size="22" text-anchor="end" fill="#404040" xml:space="preserve" class="mono" textLength="46.2" lengthAdjust="spacingAndGlyphs">1178</text>
<text x="1194.5" y="1618.7" font-size="22" text-anchor="end" fill="#404040" xml:space="preserve" class="mono" textLength="46.2" lengthAdjust="spacingAndGlyphs">1235</text>
<text x="1217" y="932.5" font-size="21.5" text-anchor="middle" fill="#303030" xml:space="preserve" class="mono" textLength="158" lengthAdjust="spacingAndGlyphs">Dens.contrast</text>
<text x="1205" y="963.5" font-size="21.5" text-anchor="middle" fill="#303030" xml:space="preserve" class="mono" textLength="59" lengthAdjust="spacingAndGlyphs">kg/m3</text>
<polyline points="1322.4,1000.6 1322.4,1034.6 1359.4,1034.6" fill="none" stroke="#606060" stroke-width="1.3"/>
<line x1="1322.4" y1="1008" x2="1327" y2="1008" stroke="#606060" stroke-width="1.2"/>
<line x1="1349.6" y1="1030" x2="1349.6" y2="1034.6" stroke="#606060" stroke-width="1.2"/>
<text x="1332" y="1021.5" font-size="17" text-anchor="start" fill="#202020" xml:space="preserve" textLength="62" lengthAdjust="spacingAndGlyphs">3000 m</text>
</svg>
</body></html>
